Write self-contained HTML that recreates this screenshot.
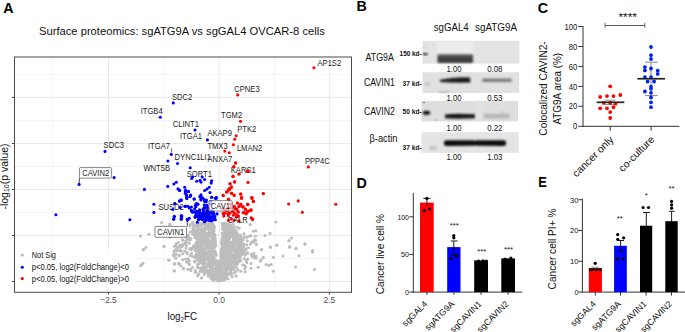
<!DOCTYPE html>
<html><head><meta charset="utf-8"><style>
html,body{margin:0;padding:0;background:#fff;}
svg{display:block;font-family:"Liberation Sans", sans-serif;}
</style></head><body>
<svg width="685" height="332" viewBox="0 0 685 332">
<text x="3.3" y="13.3" font-size="14.3" font-weight="bold">A</text>
<text x="39" y="35.2" font-size="11.2" fill="#111">Surface proteomics: sgATG9A vs sgGAL4 OVCAR-8 cells</text>
<line x1="52.6" y1="57" x2="52.6" y2="292" stroke="#f1f1f1" stroke-width="0.8"/>
<line x1="163.8" y1="57" x2="163.8" y2="292" stroke="#f1f1f1" stroke-width="0.8"/>
<line x1="274.5" y1="57" x2="274.5" y2="292" stroke="#f1f1f1" stroke-width="0.8"/>
<line x1="14.5" y1="74.3" x2="351.5" y2="74.3" stroke="#f1f1f1" stroke-width="0.8"/>
<line x1="14.5" y1="120.6" x2="351.5" y2="120.6" stroke="#f1f1f1" stroke-width="0.8"/>
<line x1="14.5" y1="166.5" x2="351.5" y2="166.5" stroke="#f1f1f1" stroke-width="0.8"/>
<line x1="14.5" y1="212.4" x2="351.5" y2="212.4" stroke="#f1f1f1" stroke-width="0.8"/>
<line x1="14.5" y1="258.5" x2="351.5" y2="258.5" stroke="#f1f1f1" stroke-width="0.8"/>
<line x1="108.5" y1="57" x2="108.5" y2="292" stroke="#eaeaea" stroke-width="1"/>
<line x1="219.1" y1="57" x2="219.1" y2="292" stroke="#eaeaea" stroke-width="1"/>
<line x1="329.4" y1="57" x2="329.4" y2="292" stroke="#eaeaea" stroke-width="1"/>
<line x1="14.5" y1="97.4" x2="351.5" y2="97.4" stroke="#eaeaea" stroke-width="1"/>
<line x1="14.5" y1="143.5" x2="351.5" y2="143.5" stroke="#eaeaea" stroke-width="1"/>
<line x1="14.5" y1="189.5" x2="351.5" y2="189.5" stroke="#eaeaea" stroke-width="1"/>
<line x1="14.5" y1="235.5" x2="351.5" y2="235.5" stroke="#eaeaea" stroke-width="1"/>
<line x1="14.5" y1="281.5" x2="351.5" y2="281.5" stroke="#eaeaea" stroke-width="1"/>
<text x="317.5" y="66.2" font-size="8.2" fill="#1a1a1a" textLength="23.66" lengthAdjust="spacingAndGlyphs">AP1S2</text>
<text x="234.3" y="91.6" font-size="8.2" fill="#1a1a1a" textLength="25.34" lengthAdjust="spacingAndGlyphs">CPNE3</text>
<text x="172" y="99.8" font-size="8.2" fill="#1a1a1a" textLength="20.27" lengthAdjust="spacingAndGlyphs">SDC2</text>
<text x="140.7" y="113.9" font-size="8.2" fill="#1a1a1a" textLength="21.96" lengthAdjust="spacingAndGlyphs">ITGB4</text>
<text x="221" y="118.1" font-size="8.2" fill="#1a1a1a" textLength="21.11" lengthAdjust="spacingAndGlyphs">TGM2</text>
<text x="172.7" y="127.1" font-size="8.2" fill="#1a1a1a" textLength="26.18" lengthAdjust="spacingAndGlyphs">CLINT1</text>
<text x="237.2" y="132.4" font-size="8.2" fill="#1a1a1a" textLength="19.01" lengthAdjust="spacingAndGlyphs">PTK2</text>
<text x="207.4" y="135.5" font-size="8.2" fill="#1a1a1a" textLength="24.50" lengthAdjust="spacingAndGlyphs">AKAP9</text>
<text x="180" y="139.2" font-size="8.2" fill="#1a1a1a" textLength="21.96" lengthAdjust="spacingAndGlyphs">ITGA1</text>
<text x="103.6" y="148.1" font-size="8.2" fill="#1a1a1a" textLength="20.27" lengthAdjust="spacingAndGlyphs">SDC3</text>
<text x="148" y="149.1" font-size="8.2" fill="#1a1a1a" textLength="21.96" lengthAdjust="spacingAndGlyphs">ITGA7</text>
<text x="207.4" y="148.9" font-size="8.2" fill="#1a1a1a" textLength="20.27" lengthAdjust="spacingAndGlyphs">TMX3</text>
<text x="236.9" y="150.9" font-size="8.2" fill="#1a1a1a" textLength="25.34" lengthAdjust="spacingAndGlyphs">LMAN2</text>
<text x="174.6" y="159.7" font-size="8.2" fill="#1a1a1a" textLength="36.33" lengthAdjust="spacingAndGlyphs">DYNC1LI1</text>
<text x="207.4" y="161.7" font-size="8.2" fill="#1a1a1a" textLength="24.92" lengthAdjust="spacingAndGlyphs">ANXA7</text>
<text x="304.9" y="163.8" font-size="8.2" fill="#1a1a1a" textLength="24.92" lengthAdjust="spacingAndGlyphs">PPP4C</text>
<text x="143.4" y="171.3" font-size="8.2" fill="#1a1a1a" textLength="26.60" lengthAdjust="spacingAndGlyphs">WNT5B</text>
<text x="230.8" y="173.2" font-size="8.2" fill="#1a1a1a" textLength="24.92" lengthAdjust="spacingAndGlyphs">KARS1</text>
<text x="186.7" y="177.0" font-size="8.2" fill="#1a1a1a" textLength="25.20" lengthAdjust="spacingAndGlyphs">SORT1</text>
<text x="158.5" y="210.0" font-size="8.2" fill="#1a1a1a" textLength="25.34" lengthAdjust="spacingAndGlyphs">SUSD2</text>
<circle cx="161.6" cy="222.5" r="1.55" fill="#bdbdbd"/>
<circle cx="169.6" cy="224.6" r="1.55" fill="#bdbdbd"/>
<circle cx="170.1" cy="224.0" r="1.55" fill="#bdbdbd"/>
<circle cx="140.5" cy="236.1" r="1.55" fill="#bdbdbd"/>
<circle cx="148.9" cy="234.3" r="1.55" fill="#bdbdbd"/>
<circle cx="164.0" cy="246.6" r="1.55" fill="#bdbdbd"/>
<circle cx="143.5" cy="249.3" r="1.55" fill="#bdbdbd"/>
<circle cx="145.9" cy="247.5" r="1.55" fill="#bdbdbd"/>
<circle cx="182.7" cy="240.3" r="1.55" fill="#bdbdbd"/>
<circle cx="176.0" cy="243.9" r="1.55" fill="#bdbdbd"/>
<circle cx="140.5" cy="265.8" r="1.55" fill="#bdbdbd"/>
<circle cx="143.0" cy="263.3" r="1.55" fill="#bdbdbd"/>
<circle cx="141.8" cy="264.6" r="1.55" fill="#bdbdbd"/>
<circle cx="168.7" cy="260.1" r="1.55" fill="#bdbdbd"/>
<circle cx="173.8" cy="255.7" r="1.55" fill="#bdbdbd"/>
<circle cx="175.7" cy="258.2" r="1.55" fill="#bdbdbd"/>
<circle cx="179.2" cy="255.7" r="1.55" fill="#bdbdbd"/>
<circle cx="174.7" cy="263.9" r="1.55" fill="#bdbdbd"/>
<circle cx="178.9" cy="263.7" r="1.55" fill="#bdbdbd"/>
<circle cx="183.3" cy="268.7" r="1.55" fill="#bdbdbd"/>
<circle cx="174.2" cy="270.9" r="1.55" fill="#bdbdbd"/>
<circle cx="190.3" cy="269.6" r="1.55" fill="#bdbdbd"/>
<circle cx="195.3" cy="270.9" r="1.55" fill="#bdbdbd"/>
<circle cx="143.4" cy="250.0" r="1.55" fill="#bdbdbd"/>
<circle cx="163.8" cy="246.3" r="1.55" fill="#bdbdbd"/>
<circle cx="169.0" cy="260.3" r="1.55" fill="#bdbdbd"/>
<circle cx="173.6" cy="255.3" r="1.55" fill="#bdbdbd"/>
<circle cx="175.8" cy="257.9" r="1.55" fill="#bdbdbd"/>
<circle cx="174.3" cy="263.9" r="1.55" fill="#bdbdbd"/>
<circle cx="178.8" cy="263.6" r="1.55" fill="#bdbdbd"/>
<circle cx="179.3" cy="255.3" r="1.55" fill="#bdbdbd"/>
<circle cx="174.3" cy="270.8" r="1.55" fill="#bdbdbd"/>
<circle cx="183.3" cy="268.1" r="1.55" fill="#bdbdbd"/>
<circle cx="174.3" cy="246.3" r="1.55" fill="#bdbdbd"/>
<circle cx="175.8" cy="249.3" r="1.55" fill="#bdbdbd"/>
<circle cx="178.1" cy="242.5" r="1.55" fill="#bdbdbd"/>
<circle cx="179.6" cy="245.5" r="1.55" fill="#bdbdbd"/>
<circle cx="182.3" cy="239.8" r="1.55" fill="#bdbdbd"/>
<circle cx="182.3" cy="246.3" r="1.55" fill="#bdbdbd"/>
<circle cx="180.3" cy="250.0" r="1.55" fill="#bdbdbd"/>
<circle cx="184.8" cy="251.3" r="1.55" fill="#bdbdbd"/>
<circle cx="185.6" cy="259.1" r="1.55" fill="#bdbdbd"/>
<circle cx="186.4" cy="245.5" r="1.55" fill="#bdbdbd"/>
<circle cx="190.9" cy="270.4" r="1.55" fill="#bdbdbd"/>
<circle cx="195.4" cy="270.8" r="1.55" fill="#bdbdbd"/>
<circle cx="189.4" cy="264.4" r="1.55" fill="#bdbdbd"/>
<circle cx="187.9" cy="262.1" r="1.55" fill="#bdbdbd"/>
<circle cx="192.4" cy="267.4" r="1.55" fill="#bdbdbd"/>
<circle cx="189.4" cy="243.3" r="1.55" fill="#bdbdbd"/>
<circle cx="190.9" cy="238.8" r="1.55" fill="#bdbdbd"/>
<circle cx="192.4" cy="247.8" r="1.55" fill="#bdbdbd"/>
<circle cx="170.2" cy="237.3" r="1.55" fill="#bdbdbd"/>
<circle cx="192.7" cy="222.2" r="1.55" fill="#bdbdbd"/>
<circle cx="275.8" cy="222.0" r="1.55" fill="#bdbdbd"/>
<circle cx="250.1" cy="224.5" r="1.55" fill="#bdbdbd"/>
<circle cx="253.5" cy="231.3" r="1.55" fill="#bdbdbd"/>
<circle cx="256.0" cy="230.8" r="1.55" fill="#bdbdbd"/>
<circle cx="270.0" cy="233.4" r="1.55" fill="#bdbdbd"/>
<circle cx="265.0" cy="235.5" r="1.55" fill="#bdbdbd"/>
<circle cx="255.5" cy="236.3" r="1.55" fill="#bdbdbd"/>
<circle cx="249.3" cy="236.3" r="1.55" fill="#bdbdbd"/>
<circle cx="246.7" cy="237.2" r="1.55" fill="#bdbdbd"/>
<circle cx="255.5" cy="240.5" r="1.55" fill="#bdbdbd"/>
<circle cx="256.4" cy="244.2" r="1.55" fill="#bdbdbd"/>
<circle cx="251.5" cy="242.2" r="1.55" fill="#bdbdbd"/>
<circle cx="246.7" cy="244.7" r="1.55" fill="#bdbdbd"/>
<circle cx="291.4" cy="238.0" r="1.55" fill="#bdbdbd"/>
<circle cx="288.9" cy="240.5" r="1.55" fill="#bdbdbd"/>
<circle cx="304.9" cy="244.2" r="1.55" fill="#bdbdbd"/>
<circle cx="276.8" cy="245.3" r="1.55" fill="#bdbdbd"/>
<circle cx="289.7" cy="246.9" r="1.55" fill="#bdbdbd"/>
<circle cx="270.4" cy="247.3" r="1.55" fill="#bdbdbd"/>
<circle cx="261.6" cy="249.8" r="1.55" fill="#bdbdbd"/>
<circle cx="296.0" cy="248.6" r="1.55" fill="#bdbdbd"/>
<circle cx="312.5" cy="250.6" r="1.55" fill="#bdbdbd"/>
<circle cx="255.2" cy="240.8" r="1.55" fill="#bdbdbd"/>
<circle cx="251.5" cy="242.0" r="1.55" fill="#bdbdbd"/>
<circle cx="256.4" cy="244.2" r="1.55" fill="#bdbdbd"/>
<circle cx="261.6" cy="249.6" r="1.55" fill="#bdbdbd"/>
<circle cx="270.4" cy="247.1" r="1.55" fill="#bdbdbd"/>
<circle cx="276.8" cy="245.0" r="1.55" fill="#bdbdbd"/>
<circle cx="289.7" cy="247.1" r="1.55" fill="#bdbdbd"/>
<circle cx="288.9" cy="240.8" r="1.55" fill="#bdbdbd"/>
<circle cx="296.0" cy="248.4" r="1.55" fill="#bdbdbd"/>
<circle cx="304.9" cy="243.9" r="1.55" fill="#bdbdbd"/>
<circle cx="312.5" cy="252.1" r="1.55" fill="#bdbdbd"/>
<circle cx="253.8" cy="253.2" r="1.55" fill="#bdbdbd"/>
<circle cx="246.7" cy="253.5" r="1.55" fill="#bdbdbd"/>
<circle cx="245.1" cy="255.2" r="1.55" fill="#bdbdbd"/>
<circle cx="256.0" cy="256.4" r="1.55" fill="#bdbdbd"/>
<circle cx="256.0" cy="258.2" r="1.55" fill="#bdbdbd"/>
<circle cx="263.3" cy="257.4" r="1.55" fill="#bdbdbd"/>
<circle cx="261.1" cy="259.9" r="1.55" fill="#bdbdbd"/>
<circle cx="260.2" cy="261.1" r="1.55" fill="#bdbdbd"/>
<circle cx="273.4" cy="257.4" r="1.55" fill="#bdbdbd"/>
<circle cx="283.0" cy="256.0" r="1.55" fill="#bdbdbd"/>
<circle cx="299.0" cy="255.7" r="1.55" fill="#bdbdbd"/>
<circle cx="266.1" cy="264.5" r="1.55" fill="#bdbdbd"/>
<circle cx="268.7" cy="265.3" r="1.55" fill="#bdbdbd"/>
<circle cx="271.2" cy="264.5" r="1.55" fill="#bdbdbd"/>
<circle cx="258.2" cy="267.3" r="1.55" fill="#bdbdbd"/>
<circle cx="251.0" cy="268.3" r="1.55" fill="#bdbdbd"/>
<circle cx="273.4" cy="271.2" r="1.55" fill="#bdbdbd"/>
<circle cx="295.6" cy="267.0" r="1.55" fill="#bdbdbd"/>
<circle cx="314.5" cy="269.5" r="1.55" fill="#bdbdbd"/>
<circle cx="245.1" cy="271.7" r="1.55" fill="#bdbdbd"/>
<circle cx="240.8" cy="271.2" r="1.55" fill="#bdbdbd"/>
<circle cx="204.0" cy="223.9" r="1.55" fill="#bdbdbd"/>
<circle cx="202.1" cy="223.5" r="1.55" fill="#bdbdbd"/>
<circle cx="204.6" cy="223.2" r="1.55" fill="#bdbdbd"/>
<circle cx="203.0" cy="223.6" r="1.55" fill="#bdbdbd"/>
<circle cx="209.0" cy="223.1" r="1.55" fill="#bdbdbd"/>
<circle cx="198.6" cy="223.1" r="1.55" fill="#bdbdbd"/>
<circle cx="209.3" cy="223.7" r="1.55" fill="#bdbdbd"/>
<circle cx="193.1" cy="224.0" r="1.55" fill="#bdbdbd"/>
<circle cx="212.6" cy="223.7" r="1.55" fill="#bdbdbd"/>
<circle cx="205.2" cy="223.2" r="1.55" fill="#bdbdbd"/>
<circle cx="192.5" cy="223.5" r="1.55" fill="#bdbdbd"/>
<circle cx="223.7" cy="223.2" r="1.55" fill="#bdbdbd"/>
<circle cx="222.6" cy="223.5" r="1.55" fill="#bdbdbd"/>
<circle cx="225.3" cy="223.8" r="1.55" fill="#bdbdbd"/>
<circle cx="225.8" cy="223.6" r="1.55" fill="#bdbdbd"/>
<circle cx="198.2" cy="225.0" r="1.55" fill="#bdbdbd"/>
<circle cx="213.5" cy="224.8" r="1.55" fill="#bdbdbd"/>
<circle cx="207.4" cy="224.3" r="1.55" fill="#bdbdbd"/>
<circle cx="197.2" cy="224.3" r="1.55" fill="#bdbdbd"/>
<circle cx="193.8" cy="224.8" r="1.55" fill="#bdbdbd"/>
<circle cx="200.8" cy="224.8" r="1.55" fill="#bdbdbd"/>
<circle cx="200.6" cy="225.0" r="1.55" fill="#bdbdbd"/>
<circle cx="210.4" cy="224.0" r="1.55" fill="#bdbdbd"/>
<circle cx="196.8" cy="224.9" r="1.55" fill="#bdbdbd"/>
<circle cx="202.3" cy="225.0" r="1.55" fill="#bdbdbd"/>
<circle cx="200.8" cy="224.1" r="1.55" fill="#bdbdbd"/>
<circle cx="228.3" cy="224.3" r="1.55" fill="#bdbdbd"/>
<circle cx="223.0" cy="224.3" r="1.55" fill="#bdbdbd"/>
<circle cx="229.7" cy="224.8" r="1.55" fill="#bdbdbd"/>
<circle cx="223.3" cy="224.2" r="1.55" fill="#bdbdbd"/>
<circle cx="190.0" cy="224.8" r="1.55" fill="#bdbdbd"/>
<circle cx="232.9" cy="224.4" r="1.55" fill="#bdbdbd"/>
<circle cx="208.1" cy="225.1" r="1.55" fill="#bdbdbd"/>
<circle cx="206.2" cy="225.1" r="1.55" fill="#bdbdbd"/>
<circle cx="201.5" cy="225.2" r="1.55" fill="#bdbdbd"/>
<circle cx="198.2" cy="226.0" r="1.55" fill="#bdbdbd"/>
<circle cx="209.7" cy="225.3" r="1.55" fill="#bdbdbd"/>
<circle cx="211.4" cy="225.2" r="1.55" fill="#bdbdbd"/>
<circle cx="200.9" cy="225.9" r="1.55" fill="#bdbdbd"/>
<circle cx="206.2" cy="225.1" r="1.55" fill="#bdbdbd"/>
<circle cx="213.6" cy="225.2" r="1.55" fill="#bdbdbd"/>
<circle cx="198.0" cy="225.8" r="1.55" fill="#bdbdbd"/>
<circle cx="199.5" cy="225.3" r="1.55" fill="#bdbdbd"/>
<circle cx="223.1" cy="225.6" r="1.55" fill="#bdbdbd"/>
<circle cx="224.4" cy="225.6" r="1.55" fill="#bdbdbd"/>
<circle cx="225.5" cy="225.5" r="1.55" fill="#bdbdbd"/>
<circle cx="230.6" cy="225.5" r="1.55" fill="#bdbdbd"/>
<circle cx="227.3" cy="225.9" r="1.55" fill="#bdbdbd"/>
<circle cx="190.1" cy="225.9" r="1.55" fill="#bdbdbd"/>
<circle cx="196.7" cy="226.7" r="1.55" fill="#bdbdbd"/>
<circle cx="212.8" cy="226.2" r="1.55" fill="#bdbdbd"/>
<circle cx="213.1" cy="226.9" r="1.55" fill="#bdbdbd"/>
<circle cx="205.6" cy="226.4" r="1.55" fill="#bdbdbd"/>
<circle cx="194.8" cy="226.0" r="1.55" fill="#bdbdbd"/>
<circle cx="213.3" cy="226.2" r="1.55" fill="#bdbdbd"/>
<circle cx="207.8" cy="226.3" r="1.55" fill="#bdbdbd"/>
<circle cx="210.3" cy="226.6" r="1.55" fill="#bdbdbd"/>
<circle cx="198.9" cy="226.2" r="1.55" fill="#bdbdbd"/>
<circle cx="208.1" cy="226.1" r="1.55" fill="#bdbdbd"/>
<circle cx="197.5" cy="226.6" r="1.55" fill="#bdbdbd"/>
<circle cx="228.2" cy="226.3" r="1.55" fill="#bdbdbd"/>
<circle cx="231.2" cy="226.2" r="1.55" fill="#bdbdbd"/>
<circle cx="222.4" cy="226.3" r="1.55" fill="#bdbdbd"/>
<circle cx="226.6" cy="226.1" r="1.55" fill="#bdbdbd"/>
<circle cx="224.0" cy="226.4" r="1.55" fill="#bdbdbd"/>
<circle cx="234.7" cy="226.9" r="1.55" fill="#bdbdbd"/>
<circle cx="206.9" cy="227.7" r="1.55" fill="#bdbdbd"/>
<circle cx="205.4" cy="227.1" r="1.55" fill="#bdbdbd"/>
<circle cx="193.5" cy="227.0" r="1.55" fill="#bdbdbd"/>
<circle cx="212.4" cy="227.7" r="1.55" fill="#bdbdbd"/>
<circle cx="213.6" cy="227.0" r="1.55" fill="#bdbdbd"/>
<circle cx="206.5" cy="227.5" r="1.55" fill="#bdbdbd"/>
<circle cx="208.5" cy="227.3" r="1.55" fill="#bdbdbd"/>
<circle cx="214.4" cy="227.1" r="1.55" fill="#bdbdbd"/>
<circle cx="204.5" cy="227.7" r="1.55" fill="#bdbdbd"/>
<circle cx="212.2" cy="227.7" r="1.55" fill="#bdbdbd"/>
<circle cx="230.8" cy="227.9" r="1.55" fill="#bdbdbd"/>
<circle cx="226.0" cy="227.7" r="1.55" fill="#bdbdbd"/>
<circle cx="231.9" cy="227.9" r="1.55" fill="#bdbdbd"/>
<circle cx="226.7" cy="227.8" r="1.55" fill="#bdbdbd"/>
<circle cx="231.5" cy="227.6" r="1.55" fill="#bdbdbd"/>
<circle cx="237.7" cy="227.6" r="1.55" fill="#bdbdbd"/>
<circle cx="206.8" cy="229.0" r="1.55" fill="#bdbdbd"/>
<circle cx="212.0" cy="228.7" r="1.55" fill="#bdbdbd"/>
<circle cx="201.3" cy="228.7" r="1.55" fill="#bdbdbd"/>
<circle cx="205.5" cy="228.4" r="1.55" fill="#bdbdbd"/>
<circle cx="211.1" cy="228.1" r="1.55" fill="#bdbdbd"/>
<circle cx="209.2" cy="228.0" r="1.55" fill="#bdbdbd"/>
<circle cx="206.0" cy="228.5" r="1.55" fill="#bdbdbd"/>
<circle cx="197.9" cy="228.7" r="1.55" fill="#bdbdbd"/>
<circle cx="203.7" cy="228.6" r="1.55" fill="#bdbdbd"/>
<circle cx="212.9" cy="228.3" r="1.55" fill="#bdbdbd"/>
<circle cx="193.1" cy="228.3" r="1.55" fill="#bdbdbd"/>
<circle cx="224.6" cy="228.2" r="1.55" fill="#bdbdbd"/>
<circle cx="232.9" cy="228.7" r="1.55" fill="#bdbdbd"/>
<circle cx="227.4" cy="228.9" r="1.55" fill="#bdbdbd"/>
<circle cx="226.0" cy="228.7" r="1.55" fill="#bdbdbd"/>
<circle cx="224.5" cy="228.4" r="1.55" fill="#bdbdbd"/>
<circle cx="231.7" cy="228.9" r="1.55" fill="#bdbdbd"/>
<circle cx="239.2" cy="228.3" r="1.55" fill="#bdbdbd"/>
<circle cx="203.9" cy="229.8" r="1.55" fill="#bdbdbd"/>
<circle cx="211.6" cy="229.7" r="1.55" fill="#bdbdbd"/>
<circle cx="213.8" cy="229.3" r="1.55" fill="#bdbdbd"/>
<circle cx="196.7" cy="229.5" r="1.55" fill="#bdbdbd"/>
<circle cx="199.0" cy="229.2" r="1.55" fill="#bdbdbd"/>
<circle cx="202.1" cy="229.6" r="1.55" fill="#bdbdbd"/>
<circle cx="203.8" cy="229.3" r="1.55" fill="#bdbdbd"/>
<circle cx="211.4" cy="230.0" r="1.55" fill="#bdbdbd"/>
<circle cx="202.9" cy="229.1" r="1.55" fill="#bdbdbd"/>
<circle cx="193.7" cy="229.9" r="1.55" fill="#bdbdbd"/>
<circle cx="193.9" cy="229.7" r="1.55" fill="#bdbdbd"/>
<circle cx="226.1" cy="229.8" r="1.55" fill="#bdbdbd"/>
<circle cx="222.4" cy="229.1" r="1.55" fill="#bdbdbd"/>
<circle cx="228.0" cy="229.0" r="1.55" fill="#bdbdbd"/>
<circle cx="232.8" cy="229.2" r="1.55" fill="#bdbdbd"/>
<circle cx="223.9" cy="229.0" r="1.55" fill="#bdbdbd"/>
<circle cx="230.2" cy="229.4" r="1.55" fill="#bdbdbd"/>
<circle cx="214.1" cy="230.7" r="1.55" fill="#bdbdbd"/>
<circle cx="197.5" cy="230.5" r="1.55" fill="#bdbdbd"/>
<circle cx="197.1" cy="230.0" r="1.55" fill="#bdbdbd"/>
<circle cx="203.5" cy="230.7" r="1.55" fill="#bdbdbd"/>
<circle cx="197.1" cy="230.3" r="1.55" fill="#bdbdbd"/>
<circle cx="200.7" cy="230.7" r="1.55" fill="#bdbdbd"/>
<circle cx="204.5" cy="230.6" r="1.55" fill="#bdbdbd"/>
<circle cx="209.7" cy="230.4" r="1.55" fill="#bdbdbd"/>
<circle cx="210.5" cy="230.9" r="1.55" fill="#bdbdbd"/>
<circle cx="195.1" cy="230.9" r="1.55" fill="#bdbdbd"/>
<circle cx="209.0" cy="230.1" r="1.55" fill="#bdbdbd"/>
<circle cx="230.8" cy="230.9" r="1.55" fill="#bdbdbd"/>
<circle cx="227.3" cy="230.6" r="1.55" fill="#bdbdbd"/>
<circle cx="234.3" cy="230.8" r="1.55" fill="#bdbdbd"/>
<circle cx="235.2" cy="230.5" r="1.55" fill="#bdbdbd"/>
<circle cx="231.1" cy="230.2" r="1.55" fill="#bdbdbd"/>
<circle cx="232.1" cy="230.8" r="1.55" fill="#bdbdbd"/>
<circle cx="231.0" cy="230.7" r="1.55" fill="#bdbdbd"/>
<circle cx="192.6" cy="231.0" r="1.55" fill="#bdbdbd"/>
<circle cx="210.5" cy="231.3" r="1.55" fill="#bdbdbd"/>
<circle cx="213.1" cy="231.9" r="1.55" fill="#bdbdbd"/>
<circle cx="200.9" cy="231.1" r="1.55" fill="#bdbdbd"/>
<circle cx="202.9" cy="231.6" r="1.55" fill="#bdbdbd"/>
<circle cx="210.0" cy="231.5" r="1.55" fill="#bdbdbd"/>
<circle cx="193.9" cy="231.8" r="1.55" fill="#bdbdbd"/>
<circle cx="194.7" cy="231.8" r="1.55" fill="#bdbdbd"/>
<circle cx="197.0" cy="231.3" r="1.55" fill="#bdbdbd"/>
<circle cx="210.5" cy="231.1" r="1.55" fill="#bdbdbd"/>
<circle cx="196.5" cy="231.5" r="1.55" fill="#bdbdbd"/>
<circle cx="209.1" cy="231.8" r="1.55" fill="#bdbdbd"/>
<circle cx="236.0" cy="231.5" r="1.55" fill="#bdbdbd"/>
<circle cx="236.1" cy="231.1" r="1.55" fill="#bdbdbd"/>
<circle cx="225.3" cy="231.5" r="1.55" fill="#bdbdbd"/>
<circle cx="226.3" cy="231.7" r="1.55" fill="#bdbdbd"/>
<circle cx="231.5" cy="231.5" r="1.55" fill="#bdbdbd"/>
<circle cx="234.5" cy="231.6" r="1.55" fill="#bdbdbd"/>
<circle cx="226.6" cy="231.4" r="1.55" fill="#bdbdbd"/>
<circle cx="211.9" cy="233.0" r="1.55" fill="#bdbdbd"/>
<circle cx="204.8" cy="232.6" r="1.55" fill="#bdbdbd"/>
<circle cx="197.8" cy="232.5" r="1.55" fill="#bdbdbd"/>
<circle cx="204.3" cy="232.6" r="1.55" fill="#bdbdbd"/>
<circle cx="194.0" cy="233.0" r="1.55" fill="#bdbdbd"/>
<circle cx="204.6" cy="232.4" r="1.55" fill="#bdbdbd"/>
<circle cx="210.8" cy="232.6" r="1.55" fill="#bdbdbd"/>
<circle cx="204.1" cy="232.7" r="1.55" fill="#bdbdbd"/>
<circle cx="194.8" cy="232.5" r="1.55" fill="#bdbdbd"/>
<circle cx="202.4" cy="233.0" r="1.55" fill="#bdbdbd"/>
<circle cx="213.5" cy="232.3" r="1.55" fill="#bdbdbd"/>
<circle cx="224.0" cy="232.4" r="1.55" fill="#bdbdbd"/>
<circle cx="234.8" cy="232.9" r="1.55" fill="#bdbdbd"/>
<circle cx="229.5" cy="232.3" r="1.55" fill="#bdbdbd"/>
<circle cx="225.0" cy="232.6" r="1.55" fill="#bdbdbd"/>
<circle cx="236.6" cy="232.1" r="1.55" fill="#bdbdbd"/>
<circle cx="234.3" cy="232.0" r="1.55" fill="#bdbdbd"/>
<circle cx="225.0" cy="232.2" r="1.55" fill="#bdbdbd"/>
<circle cx="232.8" cy="232.3" r="1.55" fill="#bdbdbd"/>
<circle cx="190.3" cy="232.1" r="1.55" fill="#bdbdbd"/>
<circle cx="204.6" cy="233.3" r="1.55" fill="#bdbdbd"/>
<circle cx="197.8" cy="233.5" r="1.55" fill="#bdbdbd"/>
<circle cx="203.0" cy="233.4" r="1.55" fill="#bdbdbd"/>
<circle cx="202.5" cy="233.5" r="1.55" fill="#bdbdbd"/>
<circle cx="197.0" cy="233.2" r="1.55" fill="#bdbdbd"/>
<circle cx="207.2" cy="233.6" r="1.55" fill="#bdbdbd"/>
<circle cx="205.0" cy="233.9" r="1.55" fill="#bdbdbd"/>
<circle cx="206.8" cy="233.9" r="1.55" fill="#bdbdbd"/>
<circle cx="198.6" cy="233.7" r="1.55" fill="#bdbdbd"/>
<circle cx="211.1" cy="233.9" r="1.55" fill="#bdbdbd"/>
<circle cx="200.4" cy="233.3" r="1.55" fill="#bdbdbd"/>
<circle cx="225.5" cy="234.0" r="1.55" fill="#bdbdbd"/>
<circle cx="236.8" cy="233.1" r="1.55" fill="#bdbdbd"/>
<circle cx="225.9" cy="233.7" r="1.55" fill="#bdbdbd"/>
<circle cx="226.2" cy="233.1" r="1.55" fill="#bdbdbd"/>
<circle cx="235.8" cy="233.4" r="1.55" fill="#bdbdbd"/>
<circle cx="235.1" cy="233.1" r="1.55" fill="#bdbdbd"/>
<circle cx="228.6" cy="233.7" r="1.55" fill="#bdbdbd"/>
<circle cx="222.2" cy="233.2" r="1.55" fill="#bdbdbd"/>
<circle cx="192.7" cy="234.0" r="1.55" fill="#bdbdbd"/>
<circle cx="243.9" cy="233.8" r="1.55" fill="#bdbdbd"/>
<circle cx="208.4" cy="234.2" r="1.55" fill="#bdbdbd"/>
<circle cx="195.2" cy="234.1" r="1.55" fill="#bdbdbd"/>
<circle cx="194.4" cy="234.6" r="1.55" fill="#bdbdbd"/>
<circle cx="204.8" cy="234.6" r="1.55" fill="#bdbdbd"/>
<circle cx="196.8" cy="234.2" r="1.55" fill="#bdbdbd"/>
<circle cx="198.0" cy="234.8" r="1.55" fill="#bdbdbd"/>
<circle cx="215.0" cy="234.9" r="1.55" fill="#bdbdbd"/>
<circle cx="195.7" cy="234.1" r="1.55" fill="#bdbdbd"/>
<circle cx="214.2" cy="234.5" r="1.55" fill="#bdbdbd"/>
<circle cx="210.1" cy="234.3" r="1.55" fill="#bdbdbd"/>
<circle cx="203.7" cy="234.5" r="1.55" fill="#bdbdbd"/>
<circle cx="232.5" cy="234.0" r="1.55" fill="#bdbdbd"/>
<circle cx="234.3" cy="234.8" r="1.55" fill="#bdbdbd"/>
<circle cx="225.0" cy="234.5" r="1.55" fill="#bdbdbd"/>
<circle cx="234.9" cy="234.4" r="1.55" fill="#bdbdbd"/>
<circle cx="225.3" cy="234.2" r="1.55" fill="#bdbdbd"/>
<circle cx="230.9" cy="234.0" r="1.55" fill="#bdbdbd"/>
<circle cx="237.7" cy="234.8" r="1.55" fill="#bdbdbd"/>
<circle cx="234.3" cy="234.9" r="1.55" fill="#bdbdbd"/>
<circle cx="233.0" cy="234.4" r="1.55" fill="#bdbdbd"/>
<circle cx="188.2" cy="235.0" r="1.55" fill="#bdbdbd"/>
<circle cx="213.4" cy="235.7" r="1.55" fill="#bdbdbd"/>
<circle cx="210.5" cy="235.8" r="1.55" fill="#bdbdbd"/>
<circle cx="202.5" cy="235.9" r="1.55" fill="#bdbdbd"/>
<circle cx="212.7" cy="235.7" r="1.55" fill="#bdbdbd"/>
<circle cx="210.3" cy="235.8" r="1.55" fill="#bdbdbd"/>
<circle cx="202.5" cy="235.7" r="1.55" fill="#bdbdbd"/>
<circle cx="195.3" cy="235.3" r="1.55" fill="#bdbdbd"/>
<circle cx="203.8" cy="235.0" r="1.55" fill="#bdbdbd"/>
<circle cx="201.4" cy="235.6" r="1.55" fill="#bdbdbd"/>
<circle cx="207.2" cy="235.2" r="1.55" fill="#bdbdbd"/>
<circle cx="214.1" cy="235.7" r="1.55" fill="#bdbdbd"/>
<circle cx="234.1" cy="235.6" r="1.55" fill="#bdbdbd"/>
<circle cx="231.7" cy="235.4" r="1.55" fill="#bdbdbd"/>
<circle cx="240.4" cy="235.6" r="1.55" fill="#bdbdbd"/>
<circle cx="234.9" cy="235.8" r="1.55" fill="#bdbdbd"/>
<circle cx="240.1" cy="235.0" r="1.55" fill="#bdbdbd"/>
<circle cx="233.3" cy="235.7" r="1.55" fill="#bdbdbd"/>
<circle cx="226.6" cy="235.4" r="1.55" fill="#bdbdbd"/>
<circle cx="222.7" cy="235.2" r="1.55" fill="#bdbdbd"/>
<circle cx="228.8" cy="235.1" r="1.55" fill="#bdbdbd"/>
<circle cx="226.5" cy="235.9" r="1.55" fill="#bdbdbd"/>
<circle cx="187.7" cy="236.0" r="1.55" fill="#bdbdbd"/>
<circle cx="250.9" cy="235.6" r="1.55" fill="#bdbdbd"/>
<circle cx="195.5" cy="236.6" r="1.55" fill="#bdbdbd"/>
<circle cx="210.2" cy="236.0" r="1.55" fill="#bdbdbd"/>
<circle cx="213.8" cy="236.2" r="1.55" fill="#bdbdbd"/>
<circle cx="204.0" cy="236.2" r="1.55" fill="#bdbdbd"/>
<circle cx="204.5" cy="236.6" r="1.55" fill="#bdbdbd"/>
<circle cx="195.1" cy="236.9" r="1.55" fill="#bdbdbd"/>
<circle cx="202.9" cy="236.5" r="1.55" fill="#bdbdbd"/>
<circle cx="206.7" cy="236.4" r="1.55" fill="#bdbdbd"/>
<circle cx="200.0" cy="236.7" r="1.55" fill="#bdbdbd"/>
<circle cx="205.9" cy="236.3" r="1.55" fill="#bdbdbd"/>
<circle cx="227.5" cy="236.0" r="1.55" fill="#bdbdbd"/>
<circle cx="226.5" cy="236.0" r="1.55" fill="#bdbdbd"/>
<circle cx="224.8" cy="236.8" r="1.55" fill="#bdbdbd"/>
<circle cx="229.4" cy="236.9" r="1.55" fill="#bdbdbd"/>
<circle cx="236.4" cy="236.1" r="1.55" fill="#bdbdbd"/>
<circle cx="241.1" cy="236.9" r="1.55" fill="#bdbdbd"/>
<circle cx="223.2" cy="236.9" r="1.55" fill="#bdbdbd"/>
<circle cx="230.1" cy="236.5" r="1.55" fill="#bdbdbd"/>
<circle cx="240.8" cy="236.2" r="1.55" fill="#bdbdbd"/>
<circle cx="232.0" cy="236.9" r="1.55" fill="#bdbdbd"/>
<circle cx="186.5" cy="237.0" r="1.55" fill="#bdbdbd"/>
<circle cx="196.5" cy="237.6" r="1.55" fill="#bdbdbd"/>
<circle cx="203.7" cy="237.2" r="1.55" fill="#bdbdbd"/>
<circle cx="195.1" cy="237.5" r="1.55" fill="#bdbdbd"/>
<circle cx="196.7" cy="237.4" r="1.55" fill="#bdbdbd"/>
<circle cx="208.3" cy="237.5" r="1.55" fill="#bdbdbd"/>
<circle cx="199.6" cy="237.6" r="1.55" fill="#bdbdbd"/>
<circle cx="203.0" cy="237.8" r="1.55" fill="#bdbdbd"/>
<circle cx="205.3" cy="238.0" r="1.55" fill="#bdbdbd"/>
<circle cx="214.4" cy="237.7" r="1.55" fill="#bdbdbd"/>
<circle cx="199.1" cy="237.1" r="1.55" fill="#bdbdbd"/>
<circle cx="213.1" cy="237.8" r="1.55" fill="#bdbdbd"/>
<circle cx="229.0" cy="237.3" r="1.55" fill="#bdbdbd"/>
<circle cx="235.8" cy="237.6" r="1.55" fill="#bdbdbd"/>
<circle cx="233.8" cy="237.6" r="1.55" fill="#bdbdbd"/>
<circle cx="237.2" cy="237.2" r="1.55" fill="#bdbdbd"/>
<circle cx="226.8" cy="238.0" r="1.55" fill="#bdbdbd"/>
<circle cx="240.5" cy="237.9" r="1.55" fill="#bdbdbd"/>
<circle cx="222.5" cy="237.1" r="1.55" fill="#bdbdbd"/>
<circle cx="227.2" cy="237.4" r="1.55" fill="#bdbdbd"/>
<circle cx="234.5" cy="237.1" r="1.55" fill="#bdbdbd"/>
<circle cx="232.8" cy="237.1" r="1.55" fill="#bdbdbd"/>
<circle cx="189.1" cy="237.6" r="1.55" fill="#bdbdbd"/>
<circle cx="188.4" cy="237.4" r="1.55" fill="#bdbdbd"/>
<circle cx="244.5" cy="237.3" r="1.55" fill="#bdbdbd"/>
<circle cx="212.0" cy="238.1" r="1.55" fill="#bdbdbd"/>
<circle cx="196.7" cy="238.8" r="1.55" fill="#bdbdbd"/>
<circle cx="207.4" cy="238.8" r="1.55" fill="#bdbdbd"/>
<circle cx="198.7" cy="238.4" r="1.55" fill="#bdbdbd"/>
<circle cx="199.6" cy="238.8" r="1.55" fill="#bdbdbd"/>
<circle cx="202.0" cy="238.7" r="1.55" fill="#bdbdbd"/>
<circle cx="215.2" cy="238.3" r="1.55" fill="#bdbdbd"/>
<circle cx="205.8" cy="238.7" r="1.55" fill="#bdbdbd"/>
<circle cx="213.7" cy="238.4" r="1.55" fill="#bdbdbd"/>
<circle cx="202.0" cy="238.1" r="1.55" fill="#bdbdbd"/>
<circle cx="223.3" cy="238.1" r="1.55" fill="#bdbdbd"/>
<circle cx="233.8" cy="238.5" r="1.55" fill="#bdbdbd"/>
<circle cx="236.4" cy="238.3" r="1.55" fill="#bdbdbd"/>
<circle cx="238.3" cy="238.1" r="1.55" fill="#bdbdbd"/>
<circle cx="226.2" cy="238.7" r="1.55" fill="#bdbdbd"/>
<circle cx="223.4" cy="238.3" r="1.55" fill="#bdbdbd"/>
<circle cx="237.2" cy="238.7" r="1.55" fill="#bdbdbd"/>
<circle cx="227.7" cy="238.1" r="1.55" fill="#bdbdbd"/>
<circle cx="229.3" cy="238.7" r="1.55" fill="#bdbdbd"/>
<circle cx="229.5" cy="238.1" r="1.55" fill="#bdbdbd"/>
<circle cx="186.9" cy="238.9" r="1.55" fill="#bdbdbd"/>
<circle cx="203.5" cy="239.8" r="1.55" fill="#bdbdbd"/>
<circle cx="200.7" cy="239.3" r="1.55" fill="#bdbdbd"/>
<circle cx="202.7" cy="239.9" r="1.55" fill="#bdbdbd"/>
<circle cx="213.2" cy="239.2" r="1.55" fill="#bdbdbd"/>
<circle cx="201.9" cy="239.4" r="1.55" fill="#bdbdbd"/>
<circle cx="202.0" cy="239.4" r="1.55" fill="#bdbdbd"/>
<circle cx="202.5" cy="239.2" r="1.55" fill="#bdbdbd"/>
<circle cx="206.2" cy="239.8" r="1.55" fill="#bdbdbd"/>
<circle cx="205.7" cy="239.8" r="1.55" fill="#bdbdbd"/>
<circle cx="206.2" cy="239.2" r="1.55" fill="#bdbdbd"/>
<circle cx="241.4" cy="239.3" r="1.55" fill="#bdbdbd"/>
<circle cx="222.0" cy="239.5" r="1.55" fill="#bdbdbd"/>
<circle cx="233.8" cy="239.6" r="1.55" fill="#bdbdbd"/>
<circle cx="243.3" cy="239.7" r="1.55" fill="#bdbdbd"/>
<circle cx="239.6" cy="239.1" r="1.55" fill="#bdbdbd"/>
<circle cx="233.8" cy="239.8" r="1.55" fill="#bdbdbd"/>
<circle cx="223.4" cy="239.1" r="1.55" fill="#bdbdbd"/>
<circle cx="238.1" cy="239.9" r="1.55" fill="#bdbdbd"/>
<circle cx="223.4" cy="239.6" r="1.55" fill="#bdbdbd"/>
<circle cx="224.8" cy="239.7" r="1.55" fill="#bdbdbd"/>
<circle cx="236.1" cy="239.2" r="1.55" fill="#bdbdbd"/>
<circle cx="190.0" cy="239.5" r="1.55" fill="#bdbdbd"/>
<circle cx="190.0" cy="239.4" r="1.55" fill="#bdbdbd"/>
<circle cx="254.7" cy="239.7" r="1.55" fill="#bdbdbd"/>
<circle cx="205.7" cy="240.7" r="1.55" fill="#bdbdbd"/>
<circle cx="209.3" cy="240.9" r="1.55" fill="#bdbdbd"/>
<circle cx="203.0" cy="240.8" r="1.55" fill="#bdbdbd"/>
<circle cx="208.5" cy="240.9" r="1.55" fill="#bdbdbd"/>
<circle cx="211.4" cy="240.8" r="1.55" fill="#bdbdbd"/>
<circle cx="213.2" cy="241.0" r="1.55" fill="#bdbdbd"/>
<circle cx="207.9" cy="240.5" r="1.55" fill="#bdbdbd"/>
<circle cx="209.4" cy="240.8" r="1.55" fill="#bdbdbd"/>
<circle cx="203.3" cy="240.4" r="1.55" fill="#bdbdbd"/>
<circle cx="197.4" cy="240.7" r="1.55" fill="#bdbdbd"/>
<circle cx="215.3" cy="240.4" r="1.55" fill="#bdbdbd"/>
<circle cx="226.2" cy="240.4" r="1.55" fill="#bdbdbd"/>
<circle cx="228.2" cy="241.0" r="1.55" fill="#bdbdbd"/>
<circle cx="222.8" cy="240.3" r="1.55" fill="#bdbdbd"/>
<circle cx="224.1" cy="240.6" r="1.55" fill="#bdbdbd"/>
<circle cx="239.3" cy="240.2" r="1.55" fill="#bdbdbd"/>
<circle cx="222.9" cy="240.5" r="1.55" fill="#bdbdbd"/>
<circle cx="234.9" cy="240.9" r="1.55" fill="#bdbdbd"/>
<circle cx="222.3" cy="240.1" r="1.55" fill="#bdbdbd"/>
<circle cx="225.7" cy="240.2" r="1.55" fill="#bdbdbd"/>
<circle cx="226.9" cy="240.7" r="1.55" fill="#bdbdbd"/>
<circle cx="235.1" cy="240.2" r="1.55" fill="#bdbdbd"/>
<circle cx="225.7" cy="240.3" r="1.55" fill="#bdbdbd"/>
<circle cx="189.7" cy="240.3" r="1.55" fill="#bdbdbd"/>
<circle cx="185.8" cy="240.8" r="1.55" fill="#bdbdbd"/>
<circle cx="247.3" cy="240.9" r="1.55" fill="#bdbdbd"/>
<circle cx="201.6" cy="241.5" r="1.55" fill="#bdbdbd"/>
<circle cx="214.7" cy="241.5" r="1.55" fill="#bdbdbd"/>
<circle cx="199.0" cy="241.0" r="1.55" fill="#bdbdbd"/>
<circle cx="214.5" cy="241.8" r="1.55" fill="#bdbdbd"/>
<circle cx="202.5" cy="241.5" r="1.55" fill="#bdbdbd"/>
<circle cx="205.3" cy="241.3" r="1.55" fill="#bdbdbd"/>
<circle cx="215.4" cy="241.7" r="1.55" fill="#bdbdbd"/>
<circle cx="199.4" cy="241.0" r="1.55" fill="#bdbdbd"/>
<circle cx="204.4" cy="241.4" r="1.55" fill="#bdbdbd"/>
<circle cx="211.3" cy="241.7" r="1.55" fill="#bdbdbd"/>
<circle cx="225.0" cy="241.2" r="1.55" fill="#bdbdbd"/>
<circle cx="228.8" cy="241.3" r="1.55" fill="#bdbdbd"/>
<circle cx="241.3" cy="241.5" r="1.55" fill="#bdbdbd"/>
<circle cx="236.0" cy="242.0" r="1.55" fill="#bdbdbd"/>
<circle cx="227.5" cy="241.5" r="1.55" fill="#bdbdbd"/>
<circle cx="224.9" cy="241.8" r="1.55" fill="#bdbdbd"/>
<circle cx="221.5" cy="241.8" r="1.55" fill="#bdbdbd"/>
<circle cx="240.8" cy="241.8" r="1.55" fill="#bdbdbd"/>
<circle cx="223.3" cy="241.3" r="1.55" fill="#bdbdbd"/>
<circle cx="237.8" cy="241.1" r="1.55" fill="#bdbdbd"/>
<circle cx="232.4" cy="241.5" r="1.55" fill="#bdbdbd"/>
<circle cx="186.4" cy="241.9" r="1.55" fill="#bdbdbd"/>
<circle cx="253.4" cy="241.4" r="1.55" fill="#bdbdbd"/>
<circle cx="196.3" cy="242.8" r="1.55" fill="#bdbdbd"/>
<circle cx="198.8" cy="242.5" r="1.55" fill="#bdbdbd"/>
<circle cx="205.5" cy="242.2" r="1.55" fill="#bdbdbd"/>
<circle cx="212.1" cy="242.3" r="1.55" fill="#bdbdbd"/>
<circle cx="201.0" cy="242.1" r="1.55" fill="#bdbdbd"/>
<circle cx="200.9" cy="242.5" r="1.55" fill="#bdbdbd"/>
<circle cx="209.6" cy="242.4" r="1.55" fill="#bdbdbd"/>
<circle cx="209.0" cy="242.1" r="1.55" fill="#bdbdbd"/>
<circle cx="202.7" cy="242.5" r="1.55" fill="#bdbdbd"/>
<circle cx="214.9" cy="242.8" r="1.55" fill="#bdbdbd"/>
<circle cx="221.7" cy="242.4" r="1.55" fill="#bdbdbd"/>
<circle cx="237.6" cy="242.2" r="1.55" fill="#bdbdbd"/>
<circle cx="234.2" cy="242.5" r="1.55" fill="#bdbdbd"/>
<circle cx="221.6" cy="243.0" r="1.55" fill="#bdbdbd"/>
<circle cx="239.6" cy="242.2" r="1.55" fill="#bdbdbd"/>
<circle cx="235.4" cy="242.3" r="1.55" fill="#bdbdbd"/>
<circle cx="229.9" cy="242.5" r="1.55" fill="#bdbdbd"/>
<circle cx="228.2" cy="242.3" r="1.55" fill="#bdbdbd"/>
<circle cx="230.3" cy="242.7" r="1.55" fill="#bdbdbd"/>
<circle cx="227.2" cy="242.2" r="1.55" fill="#bdbdbd"/>
<circle cx="238.1" cy="242.3" r="1.55" fill="#bdbdbd"/>
<circle cx="185.9" cy="242.7" r="1.55" fill="#bdbdbd"/>
<circle cx="254.0" cy="242.1" r="1.55" fill="#bdbdbd"/>
<circle cx="196.4" cy="243.7" r="1.55" fill="#bdbdbd"/>
<circle cx="209.5" cy="243.2" r="1.55" fill="#bdbdbd"/>
<circle cx="203.0" cy="243.8" r="1.55" fill="#bdbdbd"/>
<circle cx="207.0" cy="243.1" r="1.55" fill="#bdbdbd"/>
<circle cx="199.2" cy="243.2" r="1.55" fill="#bdbdbd"/>
<circle cx="197.0" cy="243.4" r="1.55" fill="#bdbdbd"/>
<circle cx="195.9" cy="243.9" r="1.55" fill="#bdbdbd"/>
<circle cx="203.5" cy="243.5" r="1.55" fill="#bdbdbd"/>
<circle cx="208.2" cy="243.8" r="1.55" fill="#bdbdbd"/>
<circle cx="211.9" cy="243.4" r="1.55" fill="#bdbdbd"/>
<circle cx="201.4" cy="243.4" r="1.55" fill="#bdbdbd"/>
<circle cx="230.4" cy="243.7" r="1.55" fill="#bdbdbd"/>
<circle cx="243.6" cy="243.8" r="1.55" fill="#bdbdbd"/>
<circle cx="236.3" cy="243.6" r="1.55" fill="#bdbdbd"/>
<circle cx="221.7" cy="243.3" r="1.55" fill="#bdbdbd"/>
<circle cx="229.1" cy="243.7" r="1.55" fill="#bdbdbd"/>
<circle cx="223.7" cy="243.4" r="1.55" fill="#bdbdbd"/>
<circle cx="232.9" cy="243.8" r="1.55" fill="#bdbdbd"/>
<circle cx="240.1" cy="243.6" r="1.55" fill="#bdbdbd"/>
<circle cx="224.9" cy="243.8" r="1.55" fill="#bdbdbd"/>
<circle cx="241.8" cy="243.5" r="1.55" fill="#bdbdbd"/>
<circle cx="229.3" cy="243.5" r="1.55" fill="#bdbdbd"/>
<circle cx="224.5" cy="243.7" r="1.55" fill="#bdbdbd"/>
<circle cx="184.9" cy="243.7" r="1.55" fill="#bdbdbd"/>
<circle cx="214.6" cy="244.6" r="1.55" fill="#bdbdbd"/>
<circle cx="198.6" cy="244.1" r="1.55" fill="#bdbdbd"/>
<circle cx="199.6" cy="244.6" r="1.55" fill="#bdbdbd"/>
<circle cx="209.3" cy="244.3" r="1.55" fill="#bdbdbd"/>
<circle cx="214.3" cy="244.4" r="1.55" fill="#bdbdbd"/>
<circle cx="204.3" cy="244.1" r="1.55" fill="#bdbdbd"/>
<circle cx="215.2" cy="244.1" r="1.55" fill="#bdbdbd"/>
<circle cx="213.7" cy="244.5" r="1.55" fill="#bdbdbd"/>
<circle cx="206.4" cy="244.6" r="1.55" fill="#bdbdbd"/>
<circle cx="200.0" cy="244.9" r="1.55" fill="#bdbdbd"/>
<circle cx="215.6" cy="244.8" r="1.55" fill="#bdbdbd"/>
<circle cx="224.1" cy="244.8" r="1.55" fill="#bdbdbd"/>
<circle cx="227.8" cy="244.9" r="1.55" fill="#bdbdbd"/>
<circle cx="226.7" cy="244.6" r="1.55" fill="#bdbdbd"/>
<circle cx="240.1" cy="244.2" r="1.55" fill="#bdbdbd"/>
<circle cx="233.7" cy="244.1" r="1.55" fill="#bdbdbd"/>
<circle cx="222.0" cy="244.2" r="1.55" fill="#bdbdbd"/>
<circle cx="243.6" cy="244.9" r="1.55" fill="#bdbdbd"/>
<circle cx="236.2" cy="244.3" r="1.55" fill="#bdbdbd"/>
<circle cx="236.5" cy="244.7" r="1.55" fill="#bdbdbd"/>
<circle cx="229.9" cy="244.6" r="1.55" fill="#bdbdbd"/>
<circle cx="239.5" cy="244.0" r="1.55" fill="#bdbdbd"/>
<circle cx="183.9" cy="244.1" r="1.55" fill="#bdbdbd"/>
<circle cx="182.2" cy="244.6" r="1.55" fill="#bdbdbd"/>
<circle cx="250.4" cy="244.3" r="1.55" fill="#bdbdbd"/>
<circle cx="201.5" cy="245.6" r="1.55" fill="#bdbdbd"/>
<circle cx="195.2" cy="245.7" r="1.55" fill="#bdbdbd"/>
<circle cx="197.5" cy="246.0" r="1.55" fill="#bdbdbd"/>
<circle cx="207.3" cy="245.5" r="1.55" fill="#bdbdbd"/>
<circle cx="203.2" cy="245.6" r="1.55" fill="#bdbdbd"/>
<circle cx="209.2" cy="245.8" r="1.55" fill="#bdbdbd"/>
<circle cx="210.5" cy="245.5" r="1.55" fill="#bdbdbd"/>
<circle cx="215.7" cy="245.8" r="1.55" fill="#bdbdbd"/>
<circle cx="212.7" cy="245.4" r="1.55" fill="#bdbdbd"/>
<circle cx="203.7" cy="245.6" r="1.55" fill="#bdbdbd"/>
<circle cx="213.8" cy="245.5" r="1.55" fill="#bdbdbd"/>
<circle cx="231.0" cy="245.9" r="1.55" fill="#bdbdbd"/>
<circle cx="228.5" cy="245.1" r="1.55" fill="#bdbdbd"/>
<circle cx="237.6" cy="245.9" r="1.55" fill="#bdbdbd"/>
<circle cx="237.7" cy="245.6" r="1.55" fill="#bdbdbd"/>
<circle cx="238.2" cy="245.3" r="1.55" fill="#bdbdbd"/>
<circle cx="234.6" cy="245.1" r="1.55" fill="#bdbdbd"/>
<circle cx="224.0" cy="245.4" r="1.55" fill="#bdbdbd"/>
<circle cx="232.6" cy="245.4" r="1.55" fill="#bdbdbd"/>
<circle cx="222.4" cy="245.7" r="1.55" fill="#bdbdbd"/>
<circle cx="233.1" cy="245.2" r="1.55" fill="#bdbdbd"/>
<circle cx="228.1" cy="245.4" r="1.55" fill="#bdbdbd"/>
<circle cx="175.8" cy="245.9" r="1.55" fill="#bdbdbd"/>
<circle cx="193.7" cy="245.7" r="1.55" fill="#bdbdbd"/>
<circle cx="211.7" cy="246.2" r="1.55" fill="#bdbdbd"/>
<circle cx="210.5" cy="246.6" r="1.55" fill="#bdbdbd"/>
<circle cx="213.8" cy="246.1" r="1.55" fill="#bdbdbd"/>
<circle cx="211.4" cy="246.1" r="1.55" fill="#bdbdbd"/>
<circle cx="206.0" cy="247.0" r="1.55" fill="#bdbdbd"/>
<circle cx="194.4" cy="246.2" r="1.55" fill="#bdbdbd"/>
<circle cx="200.9" cy="246.3" r="1.55" fill="#bdbdbd"/>
<circle cx="195.8" cy="246.9" r="1.55" fill="#bdbdbd"/>
<circle cx="211.9" cy="246.4" r="1.55" fill="#bdbdbd"/>
<circle cx="202.1" cy="246.6" r="1.55" fill="#bdbdbd"/>
<circle cx="195.4" cy="246.0" r="1.55" fill="#bdbdbd"/>
<circle cx="228.1" cy="246.5" r="1.55" fill="#bdbdbd"/>
<circle cx="242.2" cy="247.0" r="1.55" fill="#bdbdbd"/>
<circle cx="231.8" cy="246.2" r="1.55" fill="#bdbdbd"/>
<circle cx="227.8" cy="246.9" r="1.55" fill="#bdbdbd"/>
<circle cx="241.3" cy="246.2" r="1.55" fill="#bdbdbd"/>
<circle cx="240.0" cy="246.4" r="1.55" fill="#bdbdbd"/>
<circle cx="231.8" cy="246.2" r="1.55" fill="#bdbdbd"/>
<circle cx="241.0" cy="247.0" r="1.55" fill="#bdbdbd"/>
<circle cx="225.7" cy="246.6" r="1.55" fill="#bdbdbd"/>
<circle cx="225.5" cy="246.9" r="1.55" fill="#bdbdbd"/>
<circle cx="222.3" cy="246.1" r="1.55" fill="#bdbdbd"/>
<circle cx="180.5" cy="246.9" r="1.55" fill="#bdbdbd"/>
<circle cx="197.3" cy="247.7" r="1.55" fill="#bdbdbd"/>
<circle cx="214.6" cy="247.4" r="1.55" fill="#bdbdbd"/>
<circle cx="196.1" cy="247.2" r="1.55" fill="#bdbdbd"/>
<circle cx="201.1" cy="247.7" r="1.55" fill="#bdbdbd"/>
<circle cx="198.7" cy="247.2" r="1.55" fill="#bdbdbd"/>
<circle cx="199.5" cy="247.7" r="1.55" fill="#bdbdbd"/>
<circle cx="211.4" cy="247.4" r="1.55" fill="#bdbdbd"/>
<circle cx="208.7" cy="247.9" r="1.55" fill="#bdbdbd"/>
<circle cx="207.1" cy="247.2" r="1.55" fill="#bdbdbd"/>
<circle cx="200.9" cy="247.9" r="1.55" fill="#bdbdbd"/>
<circle cx="208.8" cy="247.3" r="1.55" fill="#bdbdbd"/>
<circle cx="223.1" cy="248.0" r="1.55" fill="#bdbdbd"/>
<circle cx="231.0" cy="247.5" r="1.55" fill="#bdbdbd"/>
<circle cx="233.0" cy="247.0" r="1.55" fill="#bdbdbd"/>
<circle cx="234.6" cy="247.3" r="1.55" fill="#bdbdbd"/>
<circle cx="226.7" cy="247.8" r="1.55" fill="#bdbdbd"/>
<circle cx="223.1" cy="247.3" r="1.55" fill="#bdbdbd"/>
<circle cx="238.1" cy="247.2" r="1.55" fill="#bdbdbd"/>
<circle cx="227.4" cy="247.5" r="1.55" fill="#bdbdbd"/>
<circle cx="225.3" cy="247.9" r="1.55" fill="#bdbdbd"/>
<circle cx="243.3" cy="247.0" r="1.55" fill="#bdbdbd"/>
<circle cx="231.5" cy="247.8" r="1.55" fill="#bdbdbd"/>
<circle cx="193.0" cy="247.5" r="1.55" fill="#bdbdbd"/>
<circle cx="177.7" cy="247.6" r="1.55" fill="#bdbdbd"/>
<circle cx="248.4" cy="247.7" r="1.55" fill="#bdbdbd"/>
<circle cx="205.6" cy="248.5" r="1.55" fill="#bdbdbd"/>
<circle cx="212.7" cy="248.7" r="1.55" fill="#bdbdbd"/>
<circle cx="205.7" cy="249.0" r="1.55" fill="#bdbdbd"/>
<circle cx="198.2" cy="248.8" r="1.55" fill="#bdbdbd"/>
<circle cx="198.0" cy="248.6" r="1.55" fill="#bdbdbd"/>
<circle cx="199.5" cy="248.4" r="1.55" fill="#bdbdbd"/>
<circle cx="211.1" cy="248.8" r="1.55" fill="#bdbdbd"/>
<circle cx="211.5" cy="248.2" r="1.55" fill="#bdbdbd"/>
<circle cx="205.0" cy="248.2" r="1.55" fill="#bdbdbd"/>
<circle cx="207.0" cy="248.5" r="1.55" fill="#bdbdbd"/>
<circle cx="234.4" cy="248.7" r="1.55" fill="#bdbdbd"/>
<circle cx="233.9" cy="248.9" r="1.55" fill="#bdbdbd"/>
<circle cx="225.1" cy="248.2" r="1.55" fill="#bdbdbd"/>
<circle cx="221.5" cy="248.5" r="1.55" fill="#bdbdbd"/>
<circle cx="230.8" cy="248.4" r="1.55" fill="#bdbdbd"/>
<circle cx="226.9" cy="248.8" r="1.55" fill="#bdbdbd"/>
<circle cx="222.7" cy="248.9" r="1.55" fill="#bdbdbd"/>
<circle cx="233.8" cy="248.5" r="1.55" fill="#bdbdbd"/>
<circle cx="238.7" cy="248.2" r="1.55" fill="#bdbdbd"/>
<circle cx="224.3" cy="248.3" r="1.55" fill="#bdbdbd"/>
<circle cx="222.0" cy="248.3" r="1.55" fill="#bdbdbd"/>
<circle cx="234.9" cy="248.5" r="1.55" fill="#bdbdbd"/>
<circle cx="186.0" cy="248.1" r="1.55" fill="#bdbdbd"/>
<circle cx="190.8" cy="248.2" r="1.55" fill="#bdbdbd"/>
<circle cx="245.6" cy="248.7" r="1.55" fill="#bdbdbd"/>
<circle cx="211.5" cy="249.1" r="1.55" fill="#bdbdbd"/>
<circle cx="203.4" cy="249.4" r="1.55" fill="#bdbdbd"/>
<circle cx="199.2" cy="250.0" r="1.55" fill="#bdbdbd"/>
<circle cx="195.4" cy="249.5" r="1.55" fill="#bdbdbd"/>
<circle cx="210.9" cy="250.0" r="1.55" fill="#bdbdbd"/>
<circle cx="197.6" cy="249.5" r="1.55" fill="#bdbdbd"/>
<circle cx="210.6" cy="249.0" r="1.55" fill="#bdbdbd"/>
<circle cx="199.7" cy="249.9" r="1.55" fill="#bdbdbd"/>
<circle cx="197.5" cy="249.4" r="1.55" fill="#bdbdbd"/>
<circle cx="200.9" cy="249.4" r="1.55" fill="#bdbdbd"/>
<circle cx="221.8" cy="250.0" r="1.55" fill="#bdbdbd"/>
<circle cx="238.0" cy="249.7" r="1.55" fill="#bdbdbd"/>
<circle cx="226.1" cy="249.3" r="1.55" fill="#bdbdbd"/>
<circle cx="233.3" cy="249.2" r="1.55" fill="#bdbdbd"/>
<circle cx="231.3" cy="249.9" r="1.55" fill="#bdbdbd"/>
<circle cx="229.1" cy="249.3" r="1.55" fill="#bdbdbd"/>
<circle cx="242.8" cy="249.6" r="1.55" fill="#bdbdbd"/>
<circle cx="221.9" cy="249.4" r="1.55" fill="#bdbdbd"/>
<circle cx="235.5" cy="249.1" r="1.55" fill="#bdbdbd"/>
<circle cx="228.7" cy="249.7" r="1.55" fill="#bdbdbd"/>
<circle cx="240.2" cy="249.6" r="1.55" fill="#bdbdbd"/>
<circle cx="240.7" cy="249.5" r="1.55" fill="#bdbdbd"/>
<circle cx="191.2" cy="249.4" r="1.55" fill="#bdbdbd"/>
<circle cx="189.9" cy="249.2" r="1.55" fill="#bdbdbd"/>
<circle cx="245.9" cy="249.5" r="1.55" fill="#bdbdbd"/>
<circle cx="199.0" cy="250.2" r="1.55" fill="#bdbdbd"/>
<circle cx="204.7" cy="250.3" r="1.55" fill="#bdbdbd"/>
<circle cx="204.2" cy="251.0" r="1.55" fill="#bdbdbd"/>
<circle cx="209.2" cy="250.9" r="1.55" fill="#bdbdbd"/>
<circle cx="199.0" cy="250.4" r="1.55" fill="#bdbdbd"/>
<circle cx="196.2" cy="250.7" r="1.55" fill="#bdbdbd"/>
<circle cx="202.4" cy="250.3" r="1.55" fill="#bdbdbd"/>
<circle cx="195.0" cy="250.2" r="1.55" fill="#bdbdbd"/>
<circle cx="200.3" cy="250.4" r="1.55" fill="#bdbdbd"/>
<circle cx="214.5" cy="250.7" r="1.55" fill="#bdbdbd"/>
<circle cx="200.4" cy="250.4" r="1.55" fill="#bdbdbd"/>
<circle cx="241.7" cy="250.4" r="1.55" fill="#bdbdbd"/>
<circle cx="237.9" cy="250.7" r="1.55" fill="#bdbdbd"/>
<circle cx="241.0" cy="250.0" r="1.55" fill="#bdbdbd"/>
<circle cx="228.1" cy="250.4" r="1.55" fill="#bdbdbd"/>
<circle cx="222.8" cy="250.9" r="1.55" fill="#bdbdbd"/>
<circle cx="228.2" cy="250.8" r="1.55" fill="#bdbdbd"/>
<circle cx="232.5" cy="250.1" r="1.55" fill="#bdbdbd"/>
<circle cx="229.7" cy="250.2" r="1.55" fill="#bdbdbd"/>
<circle cx="221.9" cy="250.2" r="1.55" fill="#bdbdbd"/>
<circle cx="234.1" cy="250.0" r="1.55" fill="#bdbdbd"/>
<circle cx="227.9" cy="250.4" r="1.55" fill="#bdbdbd"/>
<circle cx="176.4" cy="250.7" r="1.55" fill="#bdbdbd"/>
<circle cx="179.0" cy="250.7" r="1.55" fill="#bdbdbd"/>
<circle cx="245.2" cy="250.2" r="1.55" fill="#bdbdbd"/>
<circle cx="210.0" cy="251.4" r="1.55" fill="#bdbdbd"/>
<circle cx="203.1" cy="251.9" r="1.55" fill="#bdbdbd"/>
<circle cx="199.7" cy="251.3" r="1.55" fill="#bdbdbd"/>
<circle cx="202.3" cy="251.2" r="1.55" fill="#bdbdbd"/>
<circle cx="195.8" cy="251.0" r="1.55" fill="#bdbdbd"/>
<circle cx="208.3" cy="251.6" r="1.55" fill="#bdbdbd"/>
<circle cx="212.1" cy="252.0" r="1.55" fill="#bdbdbd"/>
<circle cx="201.3" cy="251.7" r="1.55" fill="#bdbdbd"/>
<circle cx="214.4" cy="251.2" r="1.55" fill="#bdbdbd"/>
<circle cx="209.5" cy="251.7" r="1.55" fill="#bdbdbd"/>
<circle cx="215.2" cy="251.9" r="1.55" fill="#bdbdbd"/>
<circle cx="234.8" cy="251.1" r="1.55" fill="#bdbdbd"/>
<circle cx="230.3" cy="251.4" r="1.55" fill="#bdbdbd"/>
<circle cx="222.3" cy="251.4" r="1.55" fill="#bdbdbd"/>
<circle cx="228.1" cy="251.5" r="1.55" fill="#bdbdbd"/>
<circle cx="227.1" cy="251.2" r="1.55" fill="#bdbdbd"/>
<circle cx="229.8" cy="251.5" r="1.55" fill="#bdbdbd"/>
<circle cx="224.6" cy="251.7" r="1.55" fill="#bdbdbd"/>
<circle cx="226.2" cy="251.1" r="1.55" fill="#bdbdbd"/>
<circle cx="228.4" cy="251.4" r="1.55" fill="#bdbdbd"/>
<circle cx="224.3" cy="251.6" r="1.55" fill="#bdbdbd"/>
<circle cx="236.3" cy="251.6" r="1.55" fill="#bdbdbd"/>
<circle cx="174.0" cy="251.4" r="1.55" fill="#bdbdbd"/>
<circle cx="181.3" cy="251.1" r="1.55" fill="#bdbdbd"/>
<circle cx="243.7" cy="251.5" r="1.55" fill="#bdbdbd"/>
<circle cx="205.1" cy="252.3" r="1.55" fill="#bdbdbd"/>
<circle cx="200.5" cy="252.0" r="1.55" fill="#bdbdbd"/>
<circle cx="202.5" cy="252.9" r="1.55" fill="#bdbdbd"/>
<circle cx="207.1" cy="252.3" r="1.55" fill="#bdbdbd"/>
<circle cx="209.2" cy="252.2" r="1.55" fill="#bdbdbd"/>
<circle cx="205.1" cy="252.6" r="1.55" fill="#bdbdbd"/>
<circle cx="215.2" cy="252.4" r="1.55" fill="#bdbdbd"/>
<circle cx="207.3" cy="252.9" r="1.55" fill="#bdbdbd"/>
<circle cx="211.4" cy="252.6" r="1.55" fill="#bdbdbd"/>
<circle cx="208.2" cy="252.4" r="1.55" fill="#bdbdbd"/>
<circle cx="226.9" cy="252.8" r="1.55" fill="#bdbdbd"/>
<circle cx="240.0" cy="252.4" r="1.55" fill="#bdbdbd"/>
<circle cx="240.7" cy="252.0" r="1.55" fill="#bdbdbd"/>
<circle cx="223.9" cy="252.5" r="1.55" fill="#bdbdbd"/>
<circle cx="227.6" cy="252.4" r="1.55" fill="#bdbdbd"/>
<circle cx="242.1" cy="252.1" r="1.55" fill="#bdbdbd"/>
<circle cx="225.1" cy="252.2" r="1.55" fill="#bdbdbd"/>
<circle cx="235.7" cy="252.2" r="1.55" fill="#bdbdbd"/>
<circle cx="220.9" cy="252.5" r="1.55" fill="#bdbdbd"/>
<circle cx="229.5" cy="252.2" r="1.55" fill="#bdbdbd"/>
<circle cx="231.6" cy="252.7" r="1.55" fill="#bdbdbd"/>
<circle cx="187.1" cy="252.6" r="1.55" fill="#bdbdbd"/>
<circle cx="191.6" cy="253.0" r="1.55" fill="#bdbdbd"/>
<circle cx="247.6" cy="252.9" r="1.55" fill="#bdbdbd"/>
<circle cx="210.3" cy="253.7" r="1.55" fill="#bdbdbd"/>
<circle cx="209.7" cy="254.0" r="1.55" fill="#bdbdbd"/>
<circle cx="212.5" cy="253.2" r="1.55" fill="#bdbdbd"/>
<circle cx="208.4" cy="253.5" r="1.55" fill="#bdbdbd"/>
<circle cx="207.2" cy="253.4" r="1.55" fill="#bdbdbd"/>
<circle cx="201.4" cy="253.7" r="1.55" fill="#bdbdbd"/>
<circle cx="206.6" cy="253.2" r="1.55" fill="#bdbdbd"/>
<circle cx="200.7" cy="253.3" r="1.55" fill="#bdbdbd"/>
<circle cx="199.2" cy="253.5" r="1.55" fill="#bdbdbd"/>
<circle cx="198.1" cy="253.1" r="1.55" fill="#bdbdbd"/>
<circle cx="223.1" cy="253.7" r="1.55" fill="#bdbdbd"/>
<circle cx="223.3" cy="253.5" r="1.55" fill="#bdbdbd"/>
<circle cx="237.5" cy="253.5" r="1.55" fill="#bdbdbd"/>
<circle cx="224.4" cy="253.9" r="1.55" fill="#bdbdbd"/>
<circle cx="239.6" cy="253.1" r="1.55" fill="#bdbdbd"/>
<circle cx="226.4" cy="253.5" r="1.55" fill="#bdbdbd"/>
<circle cx="238.0" cy="253.4" r="1.55" fill="#bdbdbd"/>
<circle cx="236.3" cy="253.3" r="1.55" fill="#bdbdbd"/>
<circle cx="236.3" cy="253.3" r="1.55" fill="#bdbdbd"/>
<circle cx="228.1" cy="253.8" r="1.55" fill="#bdbdbd"/>
<circle cx="239.0" cy="253.8" r="1.55" fill="#bdbdbd"/>
<circle cx="182.8" cy="253.7" r="1.55" fill="#bdbdbd"/>
<circle cx="187.2" cy="253.8" r="1.55" fill="#bdbdbd"/>
<circle cx="244.2" cy="253.4" r="1.55" fill="#bdbdbd"/>
<circle cx="200.5" cy="254.2" r="1.55" fill="#bdbdbd"/>
<circle cx="196.1" cy="254.6" r="1.55" fill="#bdbdbd"/>
<circle cx="215.0" cy="255.0" r="1.55" fill="#bdbdbd"/>
<circle cx="198.6" cy="254.7" r="1.55" fill="#bdbdbd"/>
<circle cx="204.4" cy="254.6" r="1.55" fill="#bdbdbd"/>
<circle cx="203.9" cy="254.9" r="1.55" fill="#bdbdbd"/>
<circle cx="216.0" cy="254.0" r="1.55" fill="#bdbdbd"/>
<circle cx="210.4" cy="254.1" r="1.55" fill="#bdbdbd"/>
<circle cx="196.7" cy="254.3" r="1.55" fill="#bdbdbd"/>
<circle cx="210.7" cy="255.0" r="1.55" fill="#bdbdbd"/>
<circle cx="227.9" cy="254.0" r="1.55" fill="#bdbdbd"/>
<circle cx="232.4" cy="254.5" r="1.55" fill="#bdbdbd"/>
<circle cx="228.8" cy="254.3" r="1.55" fill="#bdbdbd"/>
<circle cx="238.0" cy="254.8" r="1.55" fill="#bdbdbd"/>
<circle cx="226.9" cy="254.4" r="1.55" fill="#bdbdbd"/>
<circle cx="234.1" cy="254.8" r="1.55" fill="#bdbdbd"/>
<circle cx="241.8" cy="254.4" r="1.55" fill="#bdbdbd"/>
<circle cx="235.7" cy="254.5" r="1.55" fill="#bdbdbd"/>
<circle cx="237.9" cy="254.1" r="1.55" fill="#bdbdbd"/>
<circle cx="224.6" cy="254.1" r="1.55" fill="#bdbdbd"/>
<circle cx="240.8" cy="254.3" r="1.55" fill="#bdbdbd"/>
<circle cx="176.2" cy="254.3" r="1.55" fill="#bdbdbd"/>
<circle cx="173.9" cy="254.6" r="1.55" fill="#bdbdbd"/>
<circle cx="251.2" cy="254.3" r="1.55" fill="#bdbdbd"/>
<circle cx="205.8" cy="255.4" r="1.55" fill="#bdbdbd"/>
<circle cx="201.4" cy="255.1" r="1.55" fill="#bdbdbd"/>
<circle cx="197.4" cy="255.9" r="1.55" fill="#bdbdbd"/>
<circle cx="202.4" cy="255.1" r="1.55" fill="#bdbdbd"/>
<circle cx="199.8" cy="255.5" r="1.55" fill="#bdbdbd"/>
<circle cx="216.2" cy="255.2" r="1.55" fill="#bdbdbd"/>
<circle cx="213.5" cy="255.5" r="1.55" fill="#bdbdbd"/>
<circle cx="204.5" cy="255.8" r="1.55" fill="#bdbdbd"/>
<circle cx="204.1" cy="255.1" r="1.55" fill="#bdbdbd"/>
<circle cx="207.2" cy="255.7" r="1.55" fill="#bdbdbd"/>
<circle cx="226.7" cy="255.9" r="1.55" fill="#bdbdbd"/>
<circle cx="239.1" cy="256.0" r="1.55" fill="#bdbdbd"/>
<circle cx="230.2" cy="255.8" r="1.55" fill="#bdbdbd"/>
<circle cx="236.2" cy="255.2" r="1.55" fill="#bdbdbd"/>
<circle cx="221.4" cy="255.2" r="1.55" fill="#bdbdbd"/>
<circle cx="223.3" cy="255.1" r="1.55" fill="#bdbdbd"/>
<circle cx="228.4" cy="255.8" r="1.55" fill="#bdbdbd"/>
<circle cx="227.4" cy="255.5" r="1.55" fill="#bdbdbd"/>
<circle cx="221.1" cy="255.2" r="1.55" fill="#bdbdbd"/>
<circle cx="241.1" cy="255.0" r="1.55" fill="#bdbdbd"/>
<circle cx="191.8" cy="255.8" r="1.55" fill="#bdbdbd"/>
<circle cx="190.2" cy="255.4" r="1.55" fill="#bdbdbd"/>
<circle cx="253.9" cy="255.8" r="1.55" fill="#bdbdbd"/>
<circle cx="198.4" cy="257.0" r="1.55" fill="#bdbdbd"/>
<circle cx="204.4" cy="256.7" r="1.55" fill="#bdbdbd"/>
<circle cx="201.4" cy="256.9" r="1.55" fill="#bdbdbd"/>
<circle cx="196.9" cy="256.6" r="1.55" fill="#bdbdbd"/>
<circle cx="200.9" cy="256.4" r="1.55" fill="#bdbdbd"/>
<circle cx="203.8" cy="256.7" r="1.55" fill="#bdbdbd"/>
<circle cx="212.5" cy="256.4" r="1.55" fill="#bdbdbd"/>
<circle cx="209.1" cy="256.4" r="1.55" fill="#bdbdbd"/>
<circle cx="202.0" cy="256.9" r="1.55" fill="#bdbdbd"/>
<circle cx="222.8" cy="256.3" r="1.55" fill="#bdbdbd"/>
<circle cx="236.4" cy="256.2" r="1.55" fill="#bdbdbd"/>
<circle cx="236.4" cy="256.5" r="1.55" fill="#bdbdbd"/>
<circle cx="235.1" cy="256.2" r="1.55" fill="#bdbdbd"/>
<circle cx="223.0" cy="256.1" r="1.55" fill="#bdbdbd"/>
<circle cx="228.1" cy="256.4" r="1.55" fill="#bdbdbd"/>
<circle cx="221.0" cy="256.5" r="1.55" fill="#bdbdbd"/>
<circle cx="229.3" cy="256.3" r="1.55" fill="#bdbdbd"/>
<circle cx="232.1" cy="257.0" r="1.55" fill="#bdbdbd"/>
<circle cx="225.1" cy="256.9" r="1.55" fill="#bdbdbd"/>
<circle cx="227.5" cy="256.8" r="1.55" fill="#bdbdbd"/>
<circle cx="196.2" cy="256.4" r="1.55" fill="#bdbdbd"/>
<circle cx="195.6" cy="256.2" r="1.55" fill="#bdbdbd"/>
<circle cx="252.0" cy="256.2" r="1.55" fill="#bdbdbd"/>
<circle cx="210.0" cy="257.9" r="1.55" fill="#bdbdbd"/>
<circle cx="203.0" cy="257.2" r="1.55" fill="#bdbdbd"/>
<circle cx="203.7" cy="258.0" r="1.55" fill="#bdbdbd"/>
<circle cx="199.6" cy="257.6" r="1.55" fill="#bdbdbd"/>
<circle cx="204.1" cy="257.6" r="1.55" fill="#bdbdbd"/>
<circle cx="200.9" cy="257.6" r="1.55" fill="#bdbdbd"/>
<circle cx="214.1" cy="257.9" r="1.55" fill="#bdbdbd"/>
<circle cx="209.0" cy="257.5" r="1.55" fill="#bdbdbd"/>
<circle cx="207.8" cy="257.1" r="1.55" fill="#bdbdbd"/>
<circle cx="213.1" cy="257.7" r="1.55" fill="#bdbdbd"/>
<circle cx="234.6" cy="257.4" r="1.55" fill="#bdbdbd"/>
<circle cx="228.8" cy="257.2" r="1.55" fill="#bdbdbd"/>
<circle cx="233.3" cy="257.6" r="1.55" fill="#bdbdbd"/>
<circle cx="231.5" cy="257.0" r="1.55" fill="#bdbdbd"/>
<circle cx="233.8" cy="257.4" r="1.55" fill="#bdbdbd"/>
<circle cx="233.1" cy="257.6" r="1.55" fill="#bdbdbd"/>
<circle cx="240.1" cy="257.2" r="1.55" fill="#bdbdbd"/>
<circle cx="230.5" cy="258.0" r="1.55" fill="#bdbdbd"/>
<circle cx="236.1" cy="257.3" r="1.55" fill="#bdbdbd"/>
<circle cx="236.1" cy="258.0" r="1.55" fill="#bdbdbd"/>
<circle cx="193.7" cy="257.1" r="1.55" fill="#bdbdbd"/>
<circle cx="196.5" cy="257.5" r="1.55" fill="#bdbdbd"/>
<circle cx="253.7" cy="257.6" r="1.55" fill="#bdbdbd"/>
<circle cx="213.0" cy="258.8" r="1.55" fill="#bdbdbd"/>
<circle cx="206.9" cy="259.0" r="1.55" fill="#bdbdbd"/>
<circle cx="198.3" cy="258.9" r="1.55" fill="#bdbdbd"/>
<circle cx="210.7" cy="258.3" r="1.55" fill="#bdbdbd"/>
<circle cx="212.6" cy="258.5" r="1.55" fill="#bdbdbd"/>
<circle cx="207.4" cy="258.9" r="1.55" fill="#bdbdbd"/>
<circle cx="200.8" cy="258.3" r="1.55" fill="#bdbdbd"/>
<circle cx="209.4" cy="258.1" r="1.55" fill="#bdbdbd"/>
<circle cx="207.7" cy="258.8" r="1.55" fill="#bdbdbd"/>
<circle cx="225.7" cy="258.8" r="1.55" fill="#bdbdbd"/>
<circle cx="238.3" cy="258.8" r="1.55" fill="#bdbdbd"/>
<circle cx="232.1" cy="258.9" r="1.55" fill="#bdbdbd"/>
<circle cx="237.1" cy="258.2" r="1.55" fill="#bdbdbd"/>
<circle cx="228.3" cy="258.1" r="1.55" fill="#bdbdbd"/>
<circle cx="221.5" cy="258.3" r="1.55" fill="#bdbdbd"/>
<circle cx="238.5" cy="258.8" r="1.55" fill="#bdbdbd"/>
<circle cx="223.2" cy="258.2" r="1.55" fill="#bdbdbd"/>
<circle cx="228.7" cy="258.8" r="1.55" fill="#bdbdbd"/>
<circle cx="233.4" cy="258.9" r="1.55" fill="#bdbdbd"/>
<circle cx="196.8" cy="258.2" r="1.55" fill="#bdbdbd"/>
<circle cx="188.3" cy="258.9" r="1.55" fill="#bdbdbd"/>
<circle cx="244.2" cy="258.7" r="1.55" fill="#bdbdbd"/>
<circle cx="197.6" cy="259.3" r="1.55" fill="#bdbdbd"/>
<circle cx="203.3" cy="259.6" r="1.55" fill="#bdbdbd"/>
<circle cx="202.6" cy="259.6" r="1.55" fill="#bdbdbd"/>
<circle cx="210.5" cy="259.2" r="1.55" fill="#bdbdbd"/>
<circle cx="199.8" cy="259.7" r="1.55" fill="#bdbdbd"/>
<circle cx="206.2" cy="259.1" r="1.55" fill="#bdbdbd"/>
<circle cx="199.5" cy="259.9" r="1.55" fill="#bdbdbd"/>
<circle cx="208.9" cy="259.4" r="1.55" fill="#bdbdbd"/>
<circle cx="201.1" cy="260.0" r="1.55" fill="#bdbdbd"/>
<circle cx="210.4" cy="259.7" r="1.55" fill="#bdbdbd"/>
<circle cx="227.0" cy="259.4" r="1.55" fill="#bdbdbd"/>
<circle cx="223.7" cy="259.6" r="1.55" fill="#bdbdbd"/>
<circle cx="229.4" cy="259.8" r="1.55" fill="#bdbdbd"/>
<circle cx="229.1" cy="259.5" r="1.55" fill="#bdbdbd"/>
<circle cx="231.0" cy="259.9" r="1.55" fill="#bdbdbd"/>
<circle cx="227.8" cy="259.7" r="1.55" fill="#bdbdbd"/>
<circle cx="225.5" cy="259.6" r="1.55" fill="#bdbdbd"/>
<circle cx="226.5" cy="259.9" r="1.55" fill="#bdbdbd"/>
<circle cx="226.6" cy="259.9" r="1.55" fill="#bdbdbd"/>
<circle cx="234.5" cy="259.5" r="1.55" fill="#bdbdbd"/>
<circle cx="182.7" cy="259.7" r="1.55" fill="#bdbdbd"/>
<circle cx="247.6" cy="259.1" r="1.55" fill="#bdbdbd"/>
<circle cx="202.9" cy="260.4" r="1.55" fill="#bdbdbd"/>
<circle cx="215.5" cy="260.3" r="1.55" fill="#bdbdbd"/>
<circle cx="210.7" cy="260.7" r="1.55" fill="#bdbdbd"/>
<circle cx="202.3" cy="260.4" r="1.55" fill="#bdbdbd"/>
<circle cx="200.2" cy="260.9" r="1.55" fill="#bdbdbd"/>
<circle cx="202.4" cy="260.4" r="1.55" fill="#bdbdbd"/>
<circle cx="204.1" cy="260.8" r="1.55" fill="#bdbdbd"/>
<circle cx="213.6" cy="260.6" r="1.55" fill="#bdbdbd"/>
<circle cx="207.9" cy="260.1" r="1.55" fill="#bdbdbd"/>
<circle cx="222.5" cy="260.4" r="1.55" fill="#bdbdbd"/>
<circle cx="228.2" cy="260.7" r="1.55" fill="#bdbdbd"/>
<circle cx="234.0" cy="260.3" r="1.55" fill="#bdbdbd"/>
<circle cx="238.6" cy="260.9" r="1.55" fill="#bdbdbd"/>
<circle cx="221.2" cy="260.6" r="1.55" fill="#bdbdbd"/>
<circle cx="230.0" cy="260.4" r="1.55" fill="#bdbdbd"/>
<circle cx="230.0" cy="260.3" r="1.55" fill="#bdbdbd"/>
<circle cx="234.1" cy="260.6" r="1.55" fill="#bdbdbd"/>
<circle cx="240.0" cy="261.0" r="1.55" fill="#bdbdbd"/>
<circle cx="240.5" cy="260.4" r="1.55" fill="#bdbdbd"/>
<circle cx="189.4" cy="260.7" r="1.55" fill="#bdbdbd"/>
<circle cx="197.6" cy="260.1" r="1.55" fill="#bdbdbd"/>
<circle cx="246.4" cy="260.7" r="1.55" fill="#bdbdbd"/>
<circle cx="239.4" cy="261.2" r="1.55" fill="#bdbdbd"/>
<circle cx="213.6" cy="261.1" r="1.55" fill="#bdbdbd"/>
<circle cx="214.6" cy="261.7" r="1.55" fill="#bdbdbd"/>
<circle cx="201.6" cy="261.2" r="1.55" fill="#bdbdbd"/>
<circle cx="225.2" cy="261.6" r="1.55" fill="#bdbdbd"/>
<circle cx="229.1" cy="261.3" r="1.55" fill="#bdbdbd"/>
<circle cx="232.0" cy="261.7" r="1.55" fill="#bdbdbd"/>
<circle cx="230.5" cy="261.1" r="1.55" fill="#bdbdbd"/>
<circle cx="217.7" cy="261.0" r="1.55" fill="#bdbdbd"/>
<circle cx="234.0" cy="261.9" r="1.55" fill="#bdbdbd"/>
<circle cx="235.5" cy="261.0" r="1.55" fill="#bdbdbd"/>
<circle cx="212.8" cy="261.5" r="1.55" fill="#bdbdbd"/>
<circle cx="220.4" cy="261.1" r="1.55" fill="#bdbdbd"/>
<circle cx="231.1" cy="261.3" r="1.55" fill="#bdbdbd"/>
<circle cx="219.3" cy="261.1" r="1.55" fill="#bdbdbd"/>
<circle cx="221.8" cy="261.1" r="1.55" fill="#bdbdbd"/>
<circle cx="201.8" cy="261.5" r="1.55" fill="#bdbdbd"/>
<circle cx="210.4" cy="261.8" r="1.55" fill="#bdbdbd"/>
<circle cx="208.4" cy="261.4" r="1.55" fill="#bdbdbd"/>
<circle cx="200.4" cy="261.2" r="1.55" fill="#bdbdbd"/>
<circle cx="217.0" cy="261.6" r="1.55" fill="#bdbdbd"/>
<circle cx="194.7" cy="261.1" r="1.55" fill="#bdbdbd"/>
<circle cx="194.7" cy="261.2" r="1.55" fill="#bdbdbd"/>
<circle cx="215.0" cy="262.6" r="1.55" fill="#bdbdbd"/>
<circle cx="233.6" cy="263.0" r="1.55" fill="#bdbdbd"/>
<circle cx="215.3" cy="262.0" r="1.55" fill="#bdbdbd"/>
<circle cx="204.7" cy="262.8" r="1.55" fill="#bdbdbd"/>
<circle cx="228.3" cy="262.7" r="1.55" fill="#bdbdbd"/>
<circle cx="204.9" cy="262.5" r="1.55" fill="#bdbdbd"/>
<circle cx="199.7" cy="262.1" r="1.55" fill="#bdbdbd"/>
<circle cx="210.7" cy="263.0" r="1.55" fill="#bdbdbd"/>
<circle cx="224.6" cy="262.8" r="1.55" fill="#bdbdbd"/>
<circle cx="200.4" cy="262.4" r="1.55" fill="#bdbdbd"/>
<circle cx="201.7" cy="262.3" r="1.55" fill="#bdbdbd"/>
<circle cx="203.0" cy="262.9" r="1.55" fill="#bdbdbd"/>
<circle cx="211.9" cy="262.5" r="1.55" fill="#bdbdbd"/>
<circle cx="225.1" cy="262.9" r="1.55" fill="#bdbdbd"/>
<circle cx="236.9" cy="262.6" r="1.55" fill="#bdbdbd"/>
<circle cx="218.9" cy="262.9" r="1.55" fill="#bdbdbd"/>
<circle cx="214.5" cy="262.3" r="1.55" fill="#bdbdbd"/>
<circle cx="228.5" cy="262.3" r="1.55" fill="#bdbdbd"/>
<circle cx="213.4" cy="262.4" r="1.55" fill="#bdbdbd"/>
<circle cx="217.9" cy="262.4" r="1.55" fill="#bdbdbd"/>
<circle cx="186.4" cy="262.0" r="1.55" fill="#bdbdbd"/>
<circle cx="194.9" cy="262.1" r="1.55" fill="#bdbdbd"/>
<circle cx="246.7" cy="262.4" r="1.55" fill="#bdbdbd"/>
<circle cx="202.8" cy="263.4" r="1.55" fill="#bdbdbd"/>
<circle cx="211.3" cy="263.5" r="1.55" fill="#bdbdbd"/>
<circle cx="208.0" cy="263.7" r="1.55" fill="#bdbdbd"/>
<circle cx="218.1" cy="263.0" r="1.55" fill="#bdbdbd"/>
<circle cx="215.0" cy="264.0" r="1.55" fill="#bdbdbd"/>
<circle cx="199.2" cy="263.6" r="1.55" fill="#bdbdbd"/>
<circle cx="236.8" cy="263.4" r="1.55" fill="#bdbdbd"/>
<circle cx="222.5" cy="263.4" r="1.55" fill="#bdbdbd"/>
<circle cx="210.8" cy="263.6" r="1.55" fill="#bdbdbd"/>
<circle cx="222.2" cy="263.3" r="1.55" fill="#bdbdbd"/>
<circle cx="218.5" cy="263.5" r="1.55" fill="#bdbdbd"/>
<circle cx="228.7" cy="263.1" r="1.55" fill="#bdbdbd"/>
<circle cx="202.6" cy="263.3" r="1.55" fill="#bdbdbd"/>
<circle cx="209.6" cy="263.8" r="1.55" fill="#bdbdbd"/>
<circle cx="215.7" cy="263.9" r="1.55" fill="#bdbdbd"/>
<circle cx="214.8" cy="263.3" r="1.55" fill="#bdbdbd"/>
<circle cx="225.7" cy="263.1" r="1.55" fill="#bdbdbd"/>
<circle cx="237.7" cy="263.8" r="1.55" fill="#bdbdbd"/>
<circle cx="211.9" cy="263.3" r="1.55" fill="#bdbdbd"/>
<circle cx="231.2" cy="263.8" r="1.55" fill="#bdbdbd"/>
<circle cx="178.9" cy="263.8" r="1.55" fill="#bdbdbd"/>
<circle cx="178.7" cy="263.6" r="1.55" fill="#bdbdbd"/>
<circle cx="251.0" cy="263.6" r="1.55" fill="#bdbdbd"/>
<circle cx="235.1" cy="264.8" r="1.55" fill="#bdbdbd"/>
<circle cx="221.5" cy="264.0" r="1.55" fill="#bdbdbd"/>
<circle cx="227.5" cy="264.4" r="1.55" fill="#bdbdbd"/>
<circle cx="225.3" cy="265.0" r="1.55" fill="#bdbdbd"/>
<circle cx="234.4" cy="264.1" r="1.55" fill="#bdbdbd"/>
<circle cx="229.2" cy="264.4" r="1.55" fill="#bdbdbd"/>
<circle cx="228.1" cy="264.4" r="1.55" fill="#bdbdbd"/>
<circle cx="216.5" cy="264.4" r="1.55" fill="#bdbdbd"/>
<circle cx="203.8" cy="264.3" r="1.55" fill="#bdbdbd"/>
<circle cx="227.5" cy="264.1" r="1.55" fill="#bdbdbd"/>
<circle cx="203.7" cy="264.8" r="1.55" fill="#bdbdbd"/>
<circle cx="224.8" cy="264.5" r="1.55" fill="#bdbdbd"/>
<circle cx="203.6" cy="264.1" r="1.55" fill="#bdbdbd"/>
<circle cx="211.2" cy="265.0" r="1.55" fill="#bdbdbd"/>
<circle cx="220.8" cy="264.9" r="1.55" fill="#bdbdbd"/>
<circle cx="207.4" cy="264.4" r="1.55" fill="#bdbdbd"/>
<circle cx="219.9" cy="264.8" r="1.55" fill="#bdbdbd"/>
<circle cx="204.0" cy="264.9" r="1.55" fill="#bdbdbd"/>
<circle cx="217.4" cy="264.0" r="1.55" fill="#bdbdbd"/>
<circle cx="215.9" cy="264.4" r="1.55" fill="#bdbdbd"/>
<circle cx="197.8" cy="264.5" r="1.55" fill="#bdbdbd"/>
<circle cx="242.8" cy="264.8" r="1.55" fill="#bdbdbd"/>
<circle cx="227.3" cy="265.2" r="1.55" fill="#bdbdbd"/>
<circle cx="221.5" cy="265.2" r="1.55" fill="#bdbdbd"/>
<circle cx="212.6" cy="265.2" r="1.55" fill="#bdbdbd"/>
<circle cx="212.7" cy="265.6" r="1.55" fill="#bdbdbd"/>
<circle cx="219.0" cy="265.4" r="1.55" fill="#bdbdbd"/>
<circle cx="221.0" cy="265.8" r="1.55" fill="#bdbdbd"/>
<circle cx="213.0" cy="265.6" r="1.55" fill="#bdbdbd"/>
<circle cx="217.6" cy="266.0" r="1.55" fill="#bdbdbd"/>
<circle cx="211.9" cy="265.7" r="1.55" fill="#bdbdbd"/>
<circle cx="208.4" cy="265.3" r="1.55" fill="#bdbdbd"/>
<circle cx="226.9" cy="265.6" r="1.55" fill="#bdbdbd"/>
<circle cx="209.3" cy="265.1" r="1.55" fill="#bdbdbd"/>
<circle cx="230.4" cy="265.4" r="1.55" fill="#bdbdbd"/>
<circle cx="226.3" cy="265.4" r="1.55" fill="#bdbdbd"/>
<circle cx="222.7" cy="265.6" r="1.55" fill="#bdbdbd"/>
<circle cx="236.0" cy="265.9" r="1.55" fill="#bdbdbd"/>
<circle cx="216.6" cy="265.5" r="1.55" fill="#bdbdbd"/>
<circle cx="208.3" cy="265.8" r="1.55" fill="#bdbdbd"/>
<circle cx="203.5" cy="265.3" r="1.55" fill="#bdbdbd"/>
<circle cx="180.8" cy="265.7" r="1.55" fill="#bdbdbd"/>
<circle cx="244.1" cy="265.3" r="1.55" fill="#bdbdbd"/>
<circle cx="234.4" cy="266.8" r="1.55" fill="#bdbdbd"/>
<circle cx="229.1" cy="266.1" r="1.55" fill="#bdbdbd"/>
<circle cx="228.3" cy="266.2" r="1.55" fill="#bdbdbd"/>
<circle cx="207.3" cy="266.5" r="1.55" fill="#bdbdbd"/>
<circle cx="222.1" cy="266.1" r="1.55" fill="#bdbdbd"/>
<circle cx="227.7" cy="266.6" r="1.55" fill="#bdbdbd"/>
<circle cx="232.5" cy="266.9" r="1.55" fill="#bdbdbd"/>
<circle cx="224.9" cy="266.4" r="1.55" fill="#bdbdbd"/>
<circle cx="234.4" cy="266.7" r="1.55" fill="#bdbdbd"/>
<circle cx="210.6" cy="266.9" r="1.55" fill="#bdbdbd"/>
<circle cx="226.3" cy="266.3" r="1.55" fill="#bdbdbd"/>
<circle cx="209.1" cy="266.0" r="1.55" fill="#bdbdbd"/>
<circle cx="219.5" cy="266.3" r="1.55" fill="#bdbdbd"/>
<circle cx="210.7" cy="266.3" r="1.55" fill="#bdbdbd"/>
<circle cx="204.8" cy="266.5" r="1.55" fill="#bdbdbd"/>
<circle cx="209.9" cy="266.3" r="1.55" fill="#bdbdbd"/>
<circle cx="210.1" cy="266.5" r="1.55" fill="#bdbdbd"/>
<circle cx="231.6" cy="266.2" r="1.55" fill="#bdbdbd"/>
<circle cx="197.4" cy="266.6" r="1.55" fill="#bdbdbd"/>
<circle cx="245.6" cy="266.5" r="1.55" fill="#bdbdbd"/>
<circle cx="232.6" cy="267.8" r="1.55" fill="#bdbdbd"/>
<circle cx="209.6" cy="267.1" r="1.55" fill="#bdbdbd"/>
<circle cx="233.2" cy="267.4" r="1.55" fill="#bdbdbd"/>
<circle cx="228.0" cy="267.2" r="1.55" fill="#bdbdbd"/>
<circle cx="216.3" cy="267.4" r="1.55" fill="#bdbdbd"/>
<circle cx="225.9" cy="267.9" r="1.55" fill="#bdbdbd"/>
<circle cx="218.1" cy="267.6" r="1.55" fill="#bdbdbd"/>
<circle cx="212.7" cy="267.2" r="1.55" fill="#bdbdbd"/>
<circle cx="233.6" cy="267.1" r="1.55" fill="#bdbdbd"/>
<circle cx="233.3" cy="267.7" r="1.55" fill="#bdbdbd"/>
<circle cx="203.0" cy="267.9" r="1.55" fill="#bdbdbd"/>
<circle cx="204.1" cy="267.6" r="1.55" fill="#bdbdbd"/>
<circle cx="204.7" cy="268.0" r="1.55" fill="#bdbdbd"/>
<circle cx="211.3" cy="267.9" r="1.55" fill="#bdbdbd"/>
<circle cx="202.6" cy="267.7" r="1.55" fill="#bdbdbd"/>
<circle cx="202.9" cy="267.0" r="1.55" fill="#bdbdbd"/>
<circle cx="220.4" cy="268.0" r="1.55" fill="#bdbdbd"/>
<circle cx="197.9" cy="267.8" r="1.55" fill="#bdbdbd"/>
<circle cx="236.3" cy="267.5" r="1.55" fill="#bdbdbd"/>
<circle cx="218.7" cy="268.4" r="1.55" fill="#bdbdbd"/>
<circle cx="217.7" cy="268.2" r="1.55" fill="#bdbdbd"/>
<circle cx="224.7" cy="268.4" r="1.55" fill="#bdbdbd"/>
<circle cx="217.3" cy="268.1" r="1.55" fill="#bdbdbd"/>
<circle cx="217.3" cy="268.6" r="1.55" fill="#bdbdbd"/>
<circle cx="233.7" cy="268.6" r="1.55" fill="#bdbdbd"/>
<circle cx="205.4" cy="268.3" r="1.55" fill="#bdbdbd"/>
<circle cx="212.2" cy="268.7" r="1.55" fill="#bdbdbd"/>
<circle cx="232.6" cy="269.0" r="1.55" fill="#bdbdbd"/>
<circle cx="232.9" cy="268.9" r="1.55" fill="#bdbdbd"/>
<circle cx="229.9" cy="268.9" r="1.55" fill="#bdbdbd"/>
<circle cx="201.6" cy="268.5" r="1.55" fill="#bdbdbd"/>
<circle cx="220.8" cy="268.7" r="1.55" fill="#bdbdbd"/>
<circle cx="221.6" cy="268.6" r="1.55" fill="#bdbdbd"/>
<circle cx="232.4" cy="268.1" r="1.55" fill="#bdbdbd"/>
<circle cx="218.4" cy="269.0" r="1.55" fill="#bdbdbd"/>
<circle cx="202.0" cy="268.1" r="1.55" fill="#bdbdbd"/>
<circle cx="200.2" cy="268.0" r="1.55" fill="#bdbdbd"/>
<circle cx="244.9" cy="268.7" r="1.55" fill="#bdbdbd"/>
<circle cx="220.2" cy="269.8" r="1.55" fill="#bdbdbd"/>
<circle cx="227.6" cy="269.0" r="1.55" fill="#bdbdbd"/>
<circle cx="203.5" cy="269.8" r="1.55" fill="#bdbdbd"/>
<circle cx="233.1" cy="269.8" r="1.55" fill="#bdbdbd"/>
<circle cx="214.6" cy="269.3" r="1.55" fill="#bdbdbd"/>
<circle cx="212.6" cy="269.0" r="1.55" fill="#bdbdbd"/>
<circle cx="226.4" cy="269.3" r="1.55" fill="#bdbdbd"/>
<circle cx="220.4" cy="269.5" r="1.55" fill="#bdbdbd"/>
<circle cx="212.2" cy="269.7" r="1.55" fill="#bdbdbd"/>
<circle cx="216.1" cy="269.2" r="1.55" fill="#bdbdbd"/>
<circle cx="230.0" cy="269.2" r="1.55" fill="#bdbdbd"/>
<circle cx="206.2" cy="269.3" r="1.55" fill="#bdbdbd"/>
<circle cx="216.9" cy="269.8" r="1.55" fill="#bdbdbd"/>
<circle cx="212.1" cy="269.2" r="1.55" fill="#bdbdbd"/>
<circle cx="222.6" cy="269.3" r="1.55" fill="#bdbdbd"/>
<circle cx="218.3" cy="269.3" r="1.55" fill="#bdbdbd"/>
<circle cx="187.9" cy="269.2" r="1.55" fill="#bdbdbd"/>
<circle cx="237.9" cy="269.7" r="1.55" fill="#bdbdbd"/>
<circle cx="226.5" cy="270.5" r="1.55" fill="#bdbdbd"/>
<circle cx="204.4" cy="270.8" r="1.55" fill="#bdbdbd"/>
<circle cx="209.6" cy="270.2" r="1.55" fill="#bdbdbd"/>
<circle cx="214.9" cy="271.0" r="1.55" fill="#bdbdbd"/>
<circle cx="213.5" cy="270.4" r="1.55" fill="#bdbdbd"/>
<circle cx="230.3" cy="271.0" r="1.55" fill="#bdbdbd"/>
<circle cx="214.0" cy="270.1" r="1.55" fill="#bdbdbd"/>
<circle cx="226.5" cy="270.8" r="1.55" fill="#bdbdbd"/>
<circle cx="212.5" cy="270.8" r="1.55" fill="#bdbdbd"/>
<circle cx="213.8" cy="270.3" r="1.55" fill="#bdbdbd"/>
<circle cx="220.4" cy="270.7" r="1.55" fill="#bdbdbd"/>
<circle cx="216.8" cy="270.8" r="1.55" fill="#bdbdbd"/>
<circle cx="202.4" cy="270.5" r="1.55" fill="#bdbdbd"/>
<circle cx="213.8" cy="270.1" r="1.55" fill="#bdbdbd"/>
<circle cx="230.4" cy="270.1" r="1.55" fill="#bdbdbd"/>
<circle cx="200.1" cy="271.0" r="1.55" fill="#bdbdbd"/>
<circle cx="200.9" cy="270.3" r="1.55" fill="#bdbdbd"/>
<circle cx="223.8" cy="271.9" r="1.55" fill="#bdbdbd"/>
<circle cx="208.6" cy="271.1" r="1.55" fill="#bdbdbd"/>
<circle cx="222.8" cy="271.9" r="1.55" fill="#bdbdbd"/>
<circle cx="224.2" cy="271.9" r="1.55" fill="#bdbdbd"/>
<circle cx="216.2" cy="271.4" r="1.55" fill="#bdbdbd"/>
<circle cx="206.5" cy="271.3" r="1.55" fill="#bdbdbd"/>
<circle cx="230.4" cy="271.1" r="1.55" fill="#bdbdbd"/>
<circle cx="208.4" cy="271.3" r="1.55" fill="#bdbdbd"/>
<circle cx="204.4" cy="271.3" r="1.55" fill="#bdbdbd"/>
<circle cx="208.3" cy="271.1" r="1.55" fill="#bdbdbd"/>
<circle cx="218.4" cy="271.5" r="1.55" fill="#bdbdbd"/>
<circle cx="219.5" cy="271.8" r="1.55" fill="#bdbdbd"/>
<circle cx="218.4" cy="271.9" r="1.55" fill="#bdbdbd"/>
<circle cx="205.4" cy="271.2" r="1.55" fill="#bdbdbd"/>
<circle cx="205.2" cy="271.3" r="1.55" fill="#bdbdbd"/>
<circle cx="201.9" cy="271.5" r="1.55" fill="#bdbdbd"/>
<circle cx="235.7" cy="271.6" r="1.55" fill="#bdbdbd"/>
<circle cx="225.6" cy="273.0" r="1.55" fill="#bdbdbd"/>
<circle cx="216.5" cy="272.6" r="1.55" fill="#bdbdbd"/>
<circle cx="227.1" cy="272.5" r="1.55" fill="#bdbdbd"/>
<circle cx="209.2" cy="272.9" r="1.55" fill="#bdbdbd"/>
<circle cx="230.6" cy="272.0" r="1.55" fill="#bdbdbd"/>
<circle cx="224.8" cy="272.4" r="1.55" fill="#bdbdbd"/>
<circle cx="205.4" cy="272.2" r="1.55" fill="#bdbdbd"/>
<circle cx="208.7" cy="272.7" r="1.55" fill="#bdbdbd"/>
<circle cx="209.8" cy="272.0" r="1.55" fill="#bdbdbd"/>
<circle cx="210.0" cy="272.8" r="1.55" fill="#bdbdbd"/>
<circle cx="217.6" cy="272.7" r="1.55" fill="#bdbdbd"/>
<circle cx="216.7" cy="272.2" r="1.55" fill="#bdbdbd"/>
<circle cx="204.4" cy="272.3" r="1.55" fill="#bdbdbd"/>
<circle cx="205.1" cy="272.3" r="1.55" fill="#bdbdbd"/>
<circle cx="195.6" cy="272.5" r="1.55" fill="#bdbdbd"/>
<circle cx="214.0" cy="273.9" r="1.55" fill="#bdbdbd"/>
<circle cx="219.7" cy="273.4" r="1.55" fill="#bdbdbd"/>
<circle cx="218.7" cy="273.5" r="1.55" fill="#bdbdbd"/>
<circle cx="213.4" cy="273.9" r="1.55" fill="#bdbdbd"/>
<circle cx="210.9" cy="273.9" r="1.55" fill="#bdbdbd"/>
<circle cx="226.6" cy="273.9" r="1.55" fill="#bdbdbd"/>
<circle cx="209.1" cy="273.5" r="1.55" fill="#bdbdbd"/>
<circle cx="230.0" cy="273.3" r="1.55" fill="#bdbdbd"/>
<circle cx="209.3" cy="273.7" r="1.55" fill="#bdbdbd"/>
<circle cx="211.0" cy="273.6" r="1.55" fill="#bdbdbd"/>
<circle cx="209.0" cy="273.9" r="1.55" fill="#bdbdbd"/>
<circle cx="212.2" cy="273.1" r="1.55" fill="#bdbdbd"/>
<circle cx="222.4" cy="273.3" r="1.55" fill="#bdbdbd"/>
<circle cx="198.9" cy="273.9" r="1.55" fill="#bdbdbd"/>
<circle cx="233.8" cy="273.0" r="1.55" fill="#bdbdbd"/>
<circle cx="212.3" cy="274.6" r="1.55" fill="#bdbdbd"/>
<circle cx="220.8" cy="274.5" r="1.55" fill="#bdbdbd"/>
<circle cx="208.1" cy="274.5" r="1.55" fill="#bdbdbd"/>
<circle cx="217.3" cy="274.6" r="1.55" fill="#bdbdbd"/>
<circle cx="228.7" cy="274.3" r="1.55" fill="#bdbdbd"/>
<circle cx="216.4" cy="274.1" r="1.55" fill="#bdbdbd"/>
<circle cx="224.8" cy="274.2" r="1.55" fill="#bdbdbd"/>
<circle cx="225.4" cy="274.8" r="1.55" fill="#bdbdbd"/>
<circle cx="212.0" cy="274.9" r="1.55" fill="#bdbdbd"/>
<circle cx="217.8" cy="274.4" r="1.55" fill="#bdbdbd"/>
<circle cx="219.0" cy="274.9" r="1.55" fill="#bdbdbd"/>
<circle cx="217.5" cy="274.5" r="1.55" fill="#bdbdbd"/>
<circle cx="204.2" cy="274.5" r="1.55" fill="#bdbdbd"/>
<circle cx="231.1" cy="274.2" r="1.55" fill="#bdbdbd"/>
<circle cx="224.3" cy="276.0" r="1.55" fill="#bdbdbd"/>
<circle cx="226.8" cy="275.7" r="1.55" fill="#bdbdbd"/>
<circle cx="224.2" cy="275.7" r="1.55" fill="#bdbdbd"/>
<circle cx="224.4" cy="275.8" r="1.55" fill="#bdbdbd"/>
<circle cx="210.8" cy="275.8" r="1.55" fill="#bdbdbd"/>
<circle cx="213.5" cy="275.2" r="1.55" fill="#bdbdbd"/>
<circle cx="226.8" cy="275.0" r="1.55" fill="#bdbdbd"/>
<circle cx="218.0" cy="275.3" r="1.55" fill="#bdbdbd"/>
<circle cx="224.1" cy="275.6" r="1.55" fill="#bdbdbd"/>
<circle cx="226.6" cy="275.9" r="1.55" fill="#bdbdbd"/>
<circle cx="197.7" cy="275.7" r="1.55" fill="#bdbdbd"/>
<circle cx="236.0" cy="275.9" r="1.55" fill="#bdbdbd"/>
<circle cx="211.7" cy="276.7" r="1.55" fill="#bdbdbd"/>
<circle cx="222.9" cy="277.0" r="1.55" fill="#bdbdbd"/>
<circle cx="220.2" cy="276.1" r="1.55" fill="#bdbdbd"/>
<circle cx="222.3" cy="276.1" r="1.55" fill="#bdbdbd"/>
<circle cx="225.1" cy="276.8" r="1.55" fill="#bdbdbd"/>
<circle cx="223.4" cy="276.9" r="1.55" fill="#bdbdbd"/>
<circle cx="219.2" cy="276.9" r="1.55" fill="#bdbdbd"/>
<circle cx="220.6" cy="276.5" r="1.55" fill="#bdbdbd"/>
<circle cx="215.6" cy="276.4" r="1.55" fill="#bdbdbd"/>
<circle cx="208.4" cy="276.2" r="1.55" fill="#bdbdbd"/>
<circle cx="232.1" cy="276.8" r="1.55" fill="#bdbdbd"/>
<circle cx="218.2" cy="277.3" r="1.55" fill="#bdbdbd"/>
<circle cx="213.8" cy="277.2" r="1.55" fill="#bdbdbd"/>
<circle cx="220.5" cy="277.7" r="1.55" fill="#bdbdbd"/>
<circle cx="225.7" cy="277.3" r="1.55" fill="#bdbdbd"/>
<circle cx="225.5" cy="277.9" r="1.55" fill="#bdbdbd"/>
<circle cx="214.2" cy="278.0" r="1.55" fill="#bdbdbd"/>
<circle cx="220.0" cy="278.0" r="1.55" fill="#bdbdbd"/>
<circle cx="222.7" cy="277.3" r="1.55" fill="#bdbdbd"/>
<circle cx="214.0" cy="277.5" r="1.55" fill="#bdbdbd"/>
<circle cx="201.5" cy="277.9" r="1.55" fill="#bdbdbd"/>
<circle cx="221.8" cy="278.2" r="1.55" fill="#bdbdbd"/>
<circle cx="213.2" cy="278.6" r="1.55" fill="#bdbdbd"/>
<circle cx="213.8" cy="278.3" r="1.55" fill="#bdbdbd"/>
<circle cx="211.1" cy="278.1" r="1.55" fill="#bdbdbd"/>
<circle cx="215.6" cy="278.5" r="1.55" fill="#bdbdbd"/>
<circle cx="225.0" cy="278.6" r="1.55" fill="#bdbdbd"/>
<circle cx="216.6" cy="278.4" r="1.55" fill="#bdbdbd"/>
<circle cx="213.7" cy="278.5" r="1.55" fill="#bdbdbd"/>
<circle cx="228.1" cy="278.7" r="1.55" fill="#bdbdbd"/>
<circle cx="218.7" cy="279.6" r="1.55" fill="#bdbdbd"/>
<circle cx="224.1" cy="279.9" r="1.55" fill="#bdbdbd"/>
<circle cx="214.5" cy="279.5" r="1.55" fill="#bdbdbd"/>
<circle cx="224.9" cy="279.5" r="1.55" fill="#bdbdbd"/>
<circle cx="213.6" cy="279.8" r="1.55" fill="#bdbdbd"/>
<circle cx="211.8" cy="279.2" r="1.55" fill="#bdbdbd"/>
<circle cx="218.7" cy="279.3" r="1.55" fill="#bdbdbd"/>
<circle cx="221.1" cy="280.6" r="1.55" fill="#bdbdbd"/>
<circle cx="220.4" cy="280.5" r="1.55" fill="#bdbdbd"/>
<circle cx="217.5" cy="280.1" r="1.55" fill="#bdbdbd"/>
<circle cx="217.9" cy="281.0" r="1.55" fill="#bdbdbd"/>
<circle cx="222.4" cy="280.1" r="1.55" fill="#bdbdbd"/>
<circle cx="213.6" cy="280.3" r="1.55" fill="#bdbdbd"/>
<circle cx="173.3" cy="102.9" r="1.55" fill="#0000ff"/>
<circle cx="160.3" cy="117.3" r="1.55" fill="#0000ff"/>
<circle cx="195.0" cy="130.0" r="1.55" fill="#0000ff"/>
<circle cx="207.4" cy="139.9" r="1.55" fill="#0000ff"/>
<circle cx="105.0" cy="151.4" r="1.55" fill="#0000ff"/>
<circle cx="171.3" cy="154.4" r="1.55" fill="#0000ff"/>
<circle cx="167.9" cy="161.0" r="1.55" fill="#0000ff"/>
<circle cx="177.5" cy="163.5" r="1.55" fill="#0000ff"/>
<circle cx="190.2" cy="167.8" r="1.55" fill="#0000ff"/>
<circle cx="114.1" cy="177.6" r="1.55" fill="#0000ff"/>
<circle cx="79.1" cy="184.4" r="1.55" fill="#0000ff"/>
<circle cx="55.9" cy="214.8" r="1.55" fill="#0000ff"/>
<circle cx="129.9" cy="219.8" r="1.55" fill="#0000ff"/>
<circle cx="144.4" cy="189.4" r="1.55" fill="#0000ff"/>
<circle cx="191.6" cy="178.5" r="1.55" fill="#0000ff"/>
<circle cx="192.5" cy="177.0" r="1.55" fill="#0000ff"/>
<circle cx="196.7" cy="181.3" r="1.55" fill="#0000ff"/>
<circle cx="200.0" cy="180.4" r="1.55" fill="#0000ff"/>
<circle cx="201.0" cy="182.1" r="1.55" fill="#0000ff"/>
<circle cx="202.2" cy="177.0" r="1.55" fill="#0000ff"/>
<circle cx="204.6" cy="179.5" r="1.55" fill="#0000ff"/>
<circle cx="211.6" cy="180.7" r="1.55" fill="#0000ff"/>
<circle cx="211.2" cy="183.1" r="1.55" fill="#0000ff"/>
<circle cx="167.8" cy="186.4" r="1.55" fill="#0000ff"/>
<circle cx="173.9" cy="184.0" r="1.55" fill="#0000ff"/>
<circle cx="176.3" cy="182.2" r="1.55" fill="#0000ff"/>
<circle cx="178.0" cy="188.9" r="1.55" fill="#0000ff"/>
<circle cx="179.5" cy="190.3" r="1.55" fill="#0000ff"/>
<circle cx="184.7" cy="187.3" r="1.55" fill="#0000ff"/>
<circle cx="185.5" cy="190.3" r="1.55" fill="#0000ff"/>
<circle cx="188.3" cy="191.5" r="1.55" fill="#0000ff"/>
<circle cx="185.3" cy="193.3" r="1.55" fill="#0000ff"/>
<circle cx="186.3" cy="195.1" r="1.55" fill="#0000ff"/>
<circle cx="186.7" cy="197.5" r="1.55" fill="#0000ff"/>
<circle cx="190.7" cy="195.1" r="1.55" fill="#0000ff"/>
<circle cx="194.3" cy="199.0" r="1.55" fill="#0000ff"/>
<circle cx="179.3" cy="201.1" r="1.55" fill="#0000ff"/>
<circle cx="181.1" cy="200.2" r="1.55" fill="#0000ff"/>
<circle cx="175.0" cy="203.8" r="1.55" fill="#0000ff"/>
<circle cx="204.6" cy="190.5" r="1.55" fill="#0000ff"/>
<circle cx="207.0" cy="189.1" r="1.55" fill="#0000ff"/>
<circle cx="209.2" cy="187.3" r="1.55" fill="#0000ff"/>
<circle cx="210.0" cy="192.5" r="1.55" fill="#0000ff"/>
<circle cx="201.0" cy="194.9" r="1.55" fill="#0000ff"/>
<circle cx="199.8" cy="196.6" r="1.55" fill="#0000ff"/>
<circle cx="202.2" cy="197.5" r="1.55" fill="#0000ff"/>
<circle cx="204.0" cy="199.3" r="1.55" fill="#0000ff"/>
<circle cx="201.0" cy="200.0" r="1.55" fill="#0000ff"/>
<circle cx="206.4" cy="200.0" r="1.55" fill="#0000ff"/>
<circle cx="204.8" cy="201.7" r="1.55" fill="#0000ff"/>
<circle cx="211.8" cy="197.3" r="1.55" fill="#0000ff"/>
<circle cx="216.0" cy="197.8" r="1.55" fill="#0000ff"/>
<circle cx="198.0" cy="204.2" r="1.55" fill="#0000ff"/>
<circle cx="173.6" cy="219.2" r="1.55" fill="#0000ff"/>
<circle cx="174.2" cy="216.8" r="1.55" fill="#0000ff"/>
<circle cx="181.4" cy="219.2" r="1.55" fill="#0000ff"/>
<circle cx="181.7" cy="216.8" r="1.55" fill="#0000ff"/>
<circle cx="187.5" cy="220.1" r="1.55" fill="#0000ff"/>
<circle cx="186.8" cy="198.6" r="1.55" fill="#0000ff"/>
<circle cx="194.0" cy="199.1" r="1.55" fill="#0000ff"/>
<circle cx="190.0" cy="196.4" r="1.55" fill="#0000ff"/>
<circle cx="181.0" cy="200.0" r="1.55" fill="#0000ff"/>
<circle cx="200.8" cy="199.1" r="1.55" fill="#0000ff"/>
<circle cx="204.4" cy="200.4" r="1.55" fill="#0000ff"/>
<circle cx="206.2" cy="201.8" r="1.55" fill="#0000ff"/>
<circle cx="211.6" cy="197.3" r="1.55" fill="#0000ff"/>
<circle cx="216.2" cy="198.2" r="1.55" fill="#0000ff"/>
<circle cx="185.0" cy="206.3" r="1.55" fill="#0000ff"/>
<circle cx="197.6" cy="204.0" r="1.55" fill="#0000ff"/>
<circle cx="191.3" cy="210.4" r="1.55" fill="#0000ff"/>
<circle cx="181.8" cy="215.8" r="1.55" fill="#0000ff"/>
<circle cx="181.4" cy="218.5" r="1.55" fill="#0000ff"/>
<circle cx="187.2" cy="219.4" r="1.55" fill="#0000ff"/>
<circle cx="210.7" cy="201.3" r="1.55" fill="#0000ff"/>
<circle cx="153.9" cy="204.2" r="1.55" fill="#0000ff"/>
<circle cx="153.9" cy="212.4" r="1.55" fill="#0000ff"/>
<circle cx="174.8" cy="203.5" r="1.55" fill="#0000ff"/>
<circle cx="179.6" cy="201.1" r="1.55" fill="#0000ff"/>
<circle cx="181.1" cy="200.0" r="1.55" fill="#0000ff"/>
<circle cx="172.7" cy="209.5" r="1.55" fill="#0000ff"/>
<circle cx="180.1" cy="207.4" r="1.55" fill="#0000ff"/>
<circle cx="185.4" cy="206.4" r="1.55" fill="#0000ff"/>
<circle cx="174.3" cy="216.4" r="1.55" fill="#0000ff"/>
<circle cx="173.8" cy="219.0" r="1.55" fill="#0000ff"/>
<circle cx="181.1" cy="215.8" r="1.55" fill="#0000ff"/>
<circle cx="181.1" cy="219.0" r="1.55" fill="#0000ff"/>
<circle cx="179.6" cy="190.5" r="1.55" fill="#0000ff"/>
<circle cx="185.4" cy="192.1" r="1.55" fill="#0000ff"/>
<circle cx="186.4" cy="194.7" r="1.55" fill="#0000ff"/>
<circle cx="186.9" cy="197.4" r="1.55" fill="#0000ff"/>
<circle cx="190.6" cy="195.8" r="1.55" fill="#0000ff"/>
<circle cx="188.5" cy="191.6" r="1.55" fill="#0000ff"/>
<circle cx="214.1" cy="214.9" r="1.55" fill="#0000ff"/>
<circle cx="215.4" cy="198.4" r="1.55" fill="#0000ff"/>
<circle cx="216.4" cy="197.6" r="1.55" fill="#0000ff"/>
<circle cx="197.1" cy="213.2" r="1.55" fill="#0000ff"/>
<circle cx="206.0" cy="217.5" r="1.55" fill="#0000ff"/>
<circle cx="202.6" cy="216.3" r="1.55" fill="#0000ff"/>
<circle cx="208.1" cy="215.8" r="1.55" fill="#0000ff"/>
<circle cx="195.4" cy="217.1" r="1.55" fill="#0000ff"/>
<circle cx="204.0" cy="207.7" r="1.55" fill="#0000ff"/>
<circle cx="196.0" cy="212.8" r="1.55" fill="#0000ff"/>
<circle cx="203.9" cy="208.9" r="1.55" fill="#0000ff"/>
<circle cx="213.6" cy="219.0" r="1.55" fill="#0000ff"/>
<circle cx="204.2" cy="215.4" r="1.55" fill="#0000ff"/>
<circle cx="196.9" cy="211.6" r="1.55" fill="#0000ff"/>
<circle cx="198.9" cy="219.2" r="1.55" fill="#0000ff"/>
<circle cx="204.7" cy="213.0" r="1.55" fill="#0000ff"/>
<circle cx="202.5" cy="219.5" r="1.55" fill="#0000ff"/>
<circle cx="199.6" cy="218.2" r="1.55" fill="#0000ff"/>
<circle cx="208.7" cy="213.6" r="1.55" fill="#0000ff"/>
<circle cx="201.8" cy="213.4" r="1.55" fill="#0000ff"/>
<circle cx="203.6" cy="211.8" r="1.55" fill="#0000ff"/>
<circle cx="207.0" cy="213.1" r="1.55" fill="#0000ff"/>
<circle cx="200.6" cy="217.9" r="1.55" fill="#0000ff"/>
<circle cx="203.6" cy="213.9" r="1.55" fill="#0000ff"/>
<circle cx="212.1" cy="213.6" r="1.55" fill="#0000ff"/>
<circle cx="202.0" cy="219.6" r="1.55" fill="#0000ff"/>
<circle cx="202.5" cy="216.6" r="1.55" fill="#0000ff"/>
<circle cx="209.3" cy="211.5" r="1.55" fill="#0000ff"/>
<circle cx="209.0" cy="220.3" r="1.55" fill="#0000ff"/>
<circle cx="207.6" cy="216.5" r="1.55" fill="#0000ff"/>
<circle cx="203.2" cy="216.3" r="1.55" fill="#0000ff"/>
<circle cx="199.0" cy="217.9" r="1.55" fill="#0000ff"/>
<circle cx="205.3" cy="220.7" r="1.55" fill="#0000ff"/>
<circle cx="201.3" cy="217.1" r="1.55" fill="#0000ff"/>
<circle cx="209.8" cy="211.0" r="1.55" fill="#0000ff"/>
<circle cx="206.8" cy="210.5" r="1.55" fill="#0000ff"/>
<circle cx="198.4" cy="219.8" r="1.55" fill="#0000ff"/>
<circle cx="195.7" cy="215.4" r="1.55" fill="#0000ff"/>
<circle cx="210.9" cy="218.8" r="1.55" fill="#0000ff"/>
<circle cx="202.3" cy="215.5" r="1.55" fill="#0000ff"/>
<circle cx="208.7" cy="217.8" r="1.55" fill="#0000ff"/>
<circle cx="209.4" cy="215.3" r="1.55" fill="#0000ff"/>
<circle cx="199.5" cy="217.0" r="1.55" fill="#0000ff"/>
<circle cx="205.7" cy="214.8" r="1.55" fill="#0000ff"/>
<circle cx="210.1" cy="211.9" r="1.55" fill="#0000ff"/>
<circle cx="209.0" cy="220.3" r="1.55" fill="#0000ff"/>
<circle cx="200.0" cy="215.2" r="1.55" fill="#0000ff"/>
<circle cx="205.1" cy="214.2" r="1.55" fill="#0000ff"/>
<circle cx="197.8" cy="215.9" r="1.55" fill="#0000ff"/>
<circle cx="212.4" cy="216.5" r="1.55" fill="#0000ff"/>
<circle cx="200.3" cy="218.4" r="1.55" fill="#0000ff"/>
<circle cx="202.9" cy="209.5" r="1.55" fill="#0000ff"/>
<circle cx="206.6" cy="213.7" r="1.55" fill="#0000ff"/>
<circle cx="205.1" cy="220.9" r="1.55" fill="#0000ff"/>
<circle cx="205.9" cy="220.4" r="1.55" fill="#0000ff"/>
<circle cx="201.6" cy="217.7" r="1.55" fill="#0000ff"/>
<circle cx="196.0" cy="211.6" r="1.55" fill="#0000ff"/>
<circle cx="208.3" cy="216.8" r="1.55" fill="#0000ff"/>
<circle cx="211.1" cy="212.6" r="1.55" fill="#0000ff"/>
<circle cx="200.0" cy="212.3" r="1.55" fill="#0000ff"/>
<circle cx="205.2" cy="207.8" r="1.55" fill="#0000ff"/>
<circle cx="202.0" cy="216.4" r="1.55" fill="#0000ff"/>
<circle cx="197.5" cy="211.7" r="1.55" fill="#0000ff"/>
<circle cx="212.0" cy="220.1" r="1.55" fill="#0000ff"/>
<circle cx="199.5" cy="209.9" r="1.55" fill="#0000ff"/>
<circle cx="210.4" cy="217.5" r="1.55" fill="#0000ff"/>
<circle cx="199.8" cy="214.1" r="1.55" fill="#0000ff"/>
<circle cx="208.4" cy="207.9" r="1.55" fill="#0000ff"/>
<circle cx="210.9" cy="219.1" r="1.55" fill="#0000ff"/>
<circle cx="198.7" cy="217.0" r="1.55" fill="#0000ff"/>
<circle cx="208.5" cy="212.1" r="1.55" fill="#0000ff"/>
<circle cx="212.1" cy="210.4" r="1.55" fill="#0000ff"/>
<circle cx="204.0" cy="211.7" r="1.55" fill="#0000ff"/>
<circle cx="203.3" cy="218.5" r="1.55" fill="#0000ff"/>
<circle cx="205.9" cy="215.7" r="1.55" fill="#0000ff"/>
<circle cx="199.0" cy="215.9" r="1.55" fill="#0000ff"/>
<circle cx="201.3" cy="213.4" r="1.55" fill="#0000ff"/>
<circle cx="203.1" cy="218.7" r="1.55" fill="#0000ff"/>
<circle cx="212.8" cy="216.6" r="1.55" fill="#0000ff"/>
<circle cx="197.9" cy="212.3" r="1.55" fill="#0000ff"/>
<circle cx="208.6" cy="210.4" r="1.55" fill="#0000ff"/>
<circle cx="212.2" cy="219.3" r="1.55" fill="#0000ff"/>
<circle cx="199.0" cy="212.4" r="1.55" fill="#0000ff"/>
<circle cx="199.1" cy="217.2" r="1.55" fill="#0000ff"/>
<circle cx="195.4" cy="216.9" r="1.55" fill="#0000ff"/>
<circle cx="205.4" cy="215.4" r="1.55" fill="#0000ff"/>
<circle cx="206.5" cy="219.1" r="1.55" fill="#0000ff"/>
<circle cx="194.9" cy="216.9" r="1.55" fill="#0000ff"/>
<circle cx="198.0" cy="211.2" r="1.55" fill="#0000ff"/>
<circle cx="207.8" cy="216.9" r="1.55" fill="#0000ff"/>
<circle cx="200.9" cy="213.8" r="1.55" fill="#0000ff"/>
<circle cx="194.7" cy="208.8" r="1.55" fill="#0000ff"/>
<circle cx="195.3" cy="205.3" r="1.55" fill="#0000ff"/>
<circle cx="213.2" cy="212.4" r="1.55" fill="#0000ff"/>
<circle cx="214.5" cy="218.1" r="1.55" fill="#0000ff"/>
<circle cx="211.4" cy="220.9" r="1.55" fill="#0000ff"/>
<circle cx="196.3" cy="203.6" r="1.55" fill="#0000ff"/>
<circle cx="195.9" cy="206.8" r="1.55" fill="#0000ff"/>
<circle cx="213.9" cy="219.7" r="1.55" fill="#0000ff"/>
<circle cx="215.4" cy="219.7" r="1.55" fill="#0000ff"/>
<circle cx="189.3" cy="207.9" r="1.55" fill="#0000ff"/>
<circle cx="217.1" cy="213.9" r="1.55" fill="#0000ff"/>
<circle cx="213.7" cy="213.3" r="1.55" fill="#0000ff"/>
<circle cx="191.6" cy="210.8" r="1.55" fill="#0000ff"/>
<circle cx="206.8" cy="205.2" r="1.55" fill="#0000ff"/>
<circle cx="204.4" cy="221.8" r="1.55" fill="#0000ff"/>
<circle cx="192.4" cy="212.3" r="1.55" fill="#0000ff"/>
<circle cx="214.9" cy="216.5" r="1.55" fill="#0000ff"/>
<circle cx="193.7" cy="211.9" r="1.55" fill="#0000ff"/>
<circle cx="207.4" cy="207.3" r="1.55" fill="#0000ff"/>
<circle cx="189.3" cy="218.2" r="1.55" fill="#0000ff"/>
<circle cx="197.3" cy="222.2" r="1.55" fill="#0000ff"/>
<circle cx="204.3" cy="205.0" r="1.55" fill="#0000ff"/>
<circle cx="210.5" cy="204.1" r="1.55" fill="#0000ff"/>
<circle cx="188.1" cy="219.0" r="1.55" fill="#0000ff"/>
<circle cx="191.4" cy="207.0" r="1.55" fill="#0000ff"/>
<circle cx="187.9" cy="206.3" r="1.55" fill="#0000ff"/>
<circle cx="313.9" cy="67.8" r="1.55" fill="#ff0000"/>
<circle cx="237.7" cy="94.9" r="1.55" fill="#ff0000"/>
<circle cx="240.5" cy="121.3" r="1.55" fill="#ff0000"/>
<circle cx="236.1" cy="135.7" r="1.55" fill="#ff0000"/>
<circle cx="234.7" cy="139.2" r="1.55" fill="#ff0000"/>
<circle cx="233.4" cy="144.8" r="1.55" fill="#ff0000"/>
<circle cx="224.8" cy="151.1" r="1.55" fill="#ff0000"/>
<circle cx="229.3" cy="152.8" r="1.55" fill="#ff0000"/>
<circle cx="235.6" cy="163.0" r="1.55" fill="#ff0000"/>
<circle cx="308.3" cy="166.9" r="1.55" fill="#ff0000"/>
<circle cx="235.6" cy="162.9" r="1.55" fill="#ff0000"/>
<circle cx="234.0" cy="166.8" r="1.55" fill="#ff0000"/>
<circle cx="239.2" cy="174.0" r="1.55" fill="#ff0000"/>
<circle cx="233.1" cy="176.4" r="1.55" fill="#ff0000"/>
<circle cx="234.4" cy="181.9" r="1.55" fill="#ff0000"/>
<circle cx="230.2" cy="183.7" r="1.55" fill="#ff0000"/>
<circle cx="248.0" cy="171.3" r="1.55" fill="#ff0000"/>
<circle cx="248.0" cy="182.4" r="1.55" fill="#ff0000"/>
<circle cx="231.4" cy="186.9" r="1.55" fill="#ff0000"/>
<circle cx="229.0" cy="188.7" r="1.55" fill="#ff0000"/>
<circle cx="247.1" cy="171.1" r="1.55" fill="#ff0000"/>
<circle cx="263.3" cy="193.5" r="1.55" fill="#ff0000"/>
<circle cx="240.8" cy="194.2" r="1.55" fill="#ff0000"/>
<circle cx="241.7" cy="197.6" r="1.55" fill="#ff0000"/>
<circle cx="251.8" cy="197.6" r="1.55" fill="#ff0000"/>
<circle cx="253.5" cy="201.4" r="1.55" fill="#ff0000"/>
<circle cx="247.6" cy="204.3" r="1.55" fill="#ff0000"/>
<circle cx="288.6" cy="204.0" r="1.55" fill="#ff0000"/>
<circle cx="298.2" cy="200.9" r="1.55" fill="#ff0000"/>
<circle cx="335.8" cy="204.3" r="1.55" fill="#ff0000"/>
<circle cx="302.4" cy="212.2" r="1.55" fill="#ff0000"/>
<circle cx="243.0" cy="206.8" r="1.55" fill="#ff0000"/>
<circle cx="245.4" cy="209.3" r="1.55" fill="#ff0000"/>
<circle cx="243.4" cy="212.7" r="1.55" fill="#ff0000"/>
<circle cx="246.7" cy="212.7" r="1.55" fill="#ff0000"/>
<circle cx="248.4" cy="211.0" r="1.55" fill="#ff0000"/>
<circle cx="251.0" cy="210.2" r="1.55" fill="#ff0000"/>
<circle cx="251.5" cy="218.3" r="1.55" fill="#ff0000"/>
<circle cx="252.6" cy="219.5" r="1.55" fill="#ff0000"/>
<circle cx="231.3" cy="187.0" r="1.55" fill="#ff0000"/>
<circle cx="229.9" cy="188.6" r="1.55" fill="#ff0000"/>
<circle cx="228.6" cy="190.0" r="1.55" fill="#ff0000"/>
<circle cx="227.2" cy="191.5" r="1.55" fill="#ff0000"/>
<circle cx="226.6" cy="192.2" r="1.55" fill="#ff0000"/>
<circle cx="223.1" cy="195.4" r="1.55" fill="#ff0000"/>
<circle cx="231.4" cy="193.3" r="1.55" fill="#ff0000"/>
<circle cx="234.2" cy="195.4" r="1.55" fill="#ff0000"/>
<circle cx="240.7" cy="193.9" r="1.55" fill="#ff0000"/>
<circle cx="241.6" cy="197.6" r="1.55" fill="#ff0000"/>
<circle cx="263.3" cy="193.6" r="1.55" fill="#ff0000"/>
<circle cx="251.9" cy="197.6" r="1.55" fill="#ff0000"/>
<circle cx="253.4" cy="201.4" r="1.55" fill="#ff0000"/>
<circle cx="228.6" cy="199.3" r="1.55" fill="#ff0000"/>
<circle cx="237.4" cy="203.1" r="1.55" fill="#ff0000"/>
<circle cx="240.7" cy="204.2" r="1.55" fill="#ff0000"/>
<circle cx="239.4" cy="206.2" r="1.55" fill="#ff0000"/>
<circle cx="243.0" cy="206.7" r="1.55" fill="#ff0000"/>
<circle cx="247.7" cy="204.4" r="1.55" fill="#ff0000"/>
<circle cx="234.4" cy="206.7" r="1.55" fill="#ff0000"/>
<circle cx="245.3" cy="209.2" r="1.55" fill="#ff0000"/>
<circle cx="251.1" cy="210.1" r="1.55" fill="#ff0000"/>
<circle cx="248.4" cy="211.2" r="1.55" fill="#ff0000"/>
<circle cx="238.3" cy="211.9" r="1.55" fill="#ff0000"/>
<circle cx="243.9" cy="212.6" r="1.55" fill="#ff0000"/>
<circle cx="226.3" cy="209.8" r="1.55" fill="#ff0000"/>
<circle cx="224.5" cy="213.0" r="1.55" fill="#ff0000"/>
<circle cx="228.6" cy="213.0" r="1.55" fill="#ff0000"/>
<circle cx="230.8" cy="204.0" r="1.55" fill="#ff0000"/>
<circle cx="230.8" cy="208.0" r="1.55" fill="#ff0000"/>
<circle cx="228.4" cy="199.3" r="1.55" fill="#ff0000"/>
<circle cx="241.5" cy="198.4" r="1.55" fill="#ff0000"/>
<circle cx="252.0" cy="198.4" r="1.55" fill="#ff0000"/>
<circle cx="253.3" cy="201.5" r="1.55" fill="#ff0000"/>
<circle cx="237.3" cy="203.1" r="1.55" fill="#ff0000"/>
<circle cx="240.7" cy="204.3" r="1.55" fill="#ff0000"/>
<circle cx="247.8" cy="204.3" r="1.55" fill="#ff0000"/>
<circle cx="234.3" cy="206.4" r="1.55" fill="#ff0000"/>
<circle cx="239.0" cy="206.4" r="1.55" fill="#ff0000"/>
<circle cx="242.8" cy="206.9" r="1.55" fill="#ff0000"/>
<circle cx="245.3" cy="209.0" r="1.55" fill="#ff0000"/>
<circle cx="247.4" cy="211.5" r="1.55" fill="#ff0000"/>
<circle cx="250.8" cy="209.8" r="1.55" fill="#ff0000"/>
<circle cx="238.1" cy="211.9" r="1.55" fill="#ff0000"/>
<circle cx="243.2" cy="212.8" r="1.55" fill="#ff0000"/>
<circle cx="246.1" cy="214.0" r="1.55" fill="#ff0000"/>
<circle cx="230.5" cy="204.3" r="1.55" fill="#ff0000"/>
<circle cx="224.6" cy="209.4" r="1.55" fill="#ff0000"/>
<circle cx="229.3" cy="208.1" r="1.55" fill="#ff0000"/>
<circle cx="224.2" cy="213.6" r="1.55" fill="#ff0000"/>
<circle cx="223.8" cy="216.1" r="1.55" fill="#ff0000"/>
<circle cx="227.6" cy="213.6" r="1.55" fill="#ff0000"/>
<circle cx="229.7" cy="213.2" r="1.55" fill="#ff0000"/>
<circle cx="228.4" cy="215.7" r="1.55" fill="#ff0000"/>
<circle cx="236.9" cy="215.3" r="1.55" fill="#ff0000"/>
<circle cx="236.5" cy="217.0" r="1.55" fill="#ff0000"/>
<circle cx="228.4" cy="220.3" r="1.55" fill="#ff0000"/>
<circle cx="231.4" cy="219.1" r="1.55" fill="#ff0000"/>
<circle cx="234.3" cy="220.3" r="1.55" fill="#ff0000"/>
<circle cx="239.0" cy="220.8" r="1.55" fill="#ff0000"/>
<circle cx="251.2" cy="217.8" r="1.55" fill="#ff0000"/>
<circle cx="252.5" cy="219.1" r="1.55" fill="#ff0000"/>
<circle cx="223.3" cy="195.4" r="1.55" fill="#ff0000"/>
<circle cx="229.9" cy="183.7" r="1.55" fill="#ff0000"/>
<circle cx="231.3" cy="187.3" r="1.55" fill="#ff0000"/>
<circle cx="229.3" cy="189.7" r="1.55" fill="#ff0000"/>
<circle cx="226.9" cy="191.7" r="1.55" fill="#ff0000"/>
<circle cx="231.7" cy="193.3" r="1.55" fill="#ff0000"/>
<circle cx="234.1" cy="195.1" r="1.55" fill="#ff0000"/>
<circle cx="228.7" cy="199.9" r="1.55" fill="#ff0000"/>
<circle cx="232.9" cy="176.4" r="1.55" fill="#ff0000"/>
<circle cx="234.7" cy="181.9" r="1.55" fill="#ff0000"/>
<circle cx="238.9" cy="174.0" r="1.55" fill="#ff0000"/>
<circle cx="233.5" cy="166.8" r="1.55" fill="#ff0000"/>
<circle cx="227.8" cy="209.9" r="1.55" fill="#ff0000"/>
<circle cx="236.9" cy="208.8" r="1.55" fill="#ff0000"/>
<circle cx="233.4" cy="215.2" r="1.55" fill="#ff0000"/>
<circle cx="232.1" cy="211.7" r="1.55" fill="#ff0000"/>
<circle cx="236.8" cy="209.8" r="1.55" fill="#ff0000"/>
<circle cx="234.9" cy="208.8" r="1.55" fill="#ff0000"/>
<circle cx="226.3" cy="210.2" r="1.55" fill="#ff0000"/>
<circle cx="238.5" cy="216.1" r="1.55" fill="#ff0000"/>
<circle cx="223.2" cy="208.8" r="1.55" fill="#ff0000"/>
<circle cx="226.3" cy="210.3" r="1.55" fill="#ff0000"/>
<circle cx="237.2" cy="216.5" r="1.55" fill="#ff0000"/>
<circle cx="233.3" cy="211.7" r="1.55" fill="#ff0000"/>
<circle cx="234.9" cy="213.4" r="1.55" fill="#ff0000"/>
<circle cx="223.1" cy="213.4" r="1.55" fill="#ff0000"/>
<circle cx="228.9" cy="214.0" r="1.55" fill="#ff0000"/>
<circle cx="227.9" cy="208.2" r="1.55" fill="#ff0000"/>
<rect x="15" y="249.5" width="119.5" height="38.5" fill="#fff"/>
<circle cx="22.3" cy="255.1" r="1.55" fill="#bdbdbd"/>
<circle cx="22.3" cy="267.2" r="1.55" fill="#0000ff"/>
<circle cx="22.3" cy="278.6" r="1.55" fill="#ff0000"/>
<text x="31.8" y="258.4" font-size="8.2" fill="#111" textLength="24.10" lengthAdjust="spacingAndGlyphs">Not Sig</text>
<text x="31.8" y="270.2" font-size="8.2" fill="#111" textLength="97.18" lengthAdjust="spacingAndGlyphs">p&lt;0.05, log2(FoldChange)&lt;0</text>
<text x="31.8" y="281.6" font-size="8.2" fill="#111" textLength="97.18" lengthAdjust="spacingAndGlyphs">p&lt;0.05, log2(FoldChange)&gt;0</text>
<rect x="14.5" y="57" width="337" height="235.3" fill="none" stroke="#4a4a4a" stroke-width="1"/>
<line x1="12" y1="97.4" x2="14.5" y2="97.4" stroke="#444" stroke-width="1"/>
<line x1="12" y1="143.5" x2="14.5" y2="143.5" stroke="#444" stroke-width="1"/>
<line x1="12" y1="189.5" x2="14.5" y2="189.5" stroke="#444" stroke-width="1"/>
<line x1="12" y1="235.5" x2="14.5" y2="235.5" stroke="#444" stroke-width="1"/>
<line x1="12" y1="281.5" x2="14.5" y2="281.5" stroke="#444" stroke-width="1"/>
<line x1="108.5" y1="292.3" x2="108.5" y2="294.6" stroke="#444" stroke-width="1"/>
<line x1="219.1" y1="292.3" x2="219.1" y2="294.6" stroke="#444" stroke-width="1"/>
<line x1="329.4" y1="292.3" x2="329.4" y2="294.6" stroke="#444" stroke-width="1"/>
<text x="108.5" y="302.8" font-size="9.2" text-anchor="middle" fill="#4d4d4d" textLength="16.4" lengthAdjust="spacingAndGlyphs">−2.5</text>
<text x="219.1" y="302.8" font-size="9.2" text-anchor="middle" fill="#4d4d4d" textLength="11.9" lengthAdjust="spacingAndGlyphs">0.0</text>
<text x="329.4" y="302.8" font-size="9.2" text-anchor="middle" fill="#4d4d4d" textLength="11.9" lengthAdjust="spacingAndGlyphs">2.5</text>
<text x="167.5" y="320" font-size="10.3" fill="#111" textLength="29.5" lengthAdjust="spacingAndGlyphs">log<tspan font-size="6.5" dy="1.5">2</tspan><tspan dy="-1.5">FC</tspan></text>
<text transform="translate(7.8,176.5) rotate(-90)" font-size="10.5" text-anchor="middle" fill="#111">-log<tspan font-size="7" dy="1.6">10</tspan><tspan dy="-1.6">(p value)</tspan></text>
<text x="227.5" y="223.2" font-size="8.2" fill="#1a1a1a" textLength="20.27" lengthAdjust="spacingAndGlyphs">CALR</text>
<line x1="171.6" y1="148.3" x2="171.6" y2="152.5" stroke="#222" stroke-width="0.7"/>
<line x1="79.4" y1="178" x2="79.2" y2="184" stroke="#222" stroke-width="0.8"/>
<line x1="187.3" y1="221" x2="187.3" y2="226.5" stroke="#222" stroke-width="0.8"/>
<line x1="208.2" y1="207.5" x2="204" y2="216.9" stroke="#222" stroke-width="0.8"/>
<rect x="79.4" y="167.6" width="32.19999999999999" height="10.5" rx="1.2" fill="#fff" fill-opacity="0.65" stroke="#555" stroke-width="0.7"/>
<text x="82.3" y="175.8" font-size="8.2" fill="#1a1a1a" textLength="26.89" lengthAdjust="spacingAndGlyphs">CAVIN2</text>
<rect x="154.9" y="226.4" width="31.599999999999994" height="10.900000000000006" rx="1.2" fill="#fff" fill-opacity="0.65" stroke="#555" stroke-width="0.7"/>
<text x="157.3" y="234.7" font-size="8.2" fill="#1a1a1a" textLength="26.89" lengthAdjust="spacingAndGlyphs">CAVIN1</text>
<rect x="208.8" y="200.6" width="23.5" height="10.5" rx="1.2" fill="#fff" fill-opacity="0.65" stroke="#555" stroke-width="0.7"/>
<text x="210.8" y="208.8" font-size="8.2" fill="#1a1a1a" textLength="19.29" lengthAdjust="spacingAndGlyphs">CAV1</text>
<text x="356.6" y="11.2" font-size="14.3" font-weight="bold">B</text>
<text x="433.7" y="31.2" font-size="10.4" fill="#111" textLength="35" lengthAdjust="spacingAndGlyphs">sgGAL4</text>
<text x="475" y="31.2" font-size="10.4" fill="#111" textLength="42" lengthAdjust="spacingAndGlyphs">sgATG9A</text>
<defs>
<filter id="bl1" x="-20%" y="-50%" width="140%" height="200%"><feGaussianBlur stdDeviation="0.9 0.8"/></filter>
<filter id="bl2" x="-20%" y="-50%" width="140%" height="200%"><feGaussianBlur stdDeviation="1.5 1.2"/></filter>
<filter id="bl3" x="-50%" y="-50%" width="200%" height="200%"><feGaussianBlur stdDeviation="2"/></filter>
</defs>
<rect x="422.5" y="40.8" width="96.8" height="22.8" fill="#e3e3e3"/>
<rect x="437" y="41" width="36" height="13" fill="#ececec" filter="url(#bl2)"/>
<rect x="422.5" y="72.2" width="96.8" height="20.8" fill="#e1e1e1"/>
<rect x="421.4" y="100.9" width="96.6" height="20.5" fill="#dedede"/>
<rect x="421.4" y="132.2" width="97.3" height="20.6" fill="#e4e4e4"/>
<linearGradient id="g1" x1="0" y1="0" x2="0" y2="1"><stop offset="0" stop-color="#6a6a6a"/><stop offset="0.45" stop-color="#3a3a3a"/><stop offset="0.6" stop-color="#4a4a4a"/><stop offset="1" stop-color="#1c1c1c"/></linearGradient>
<rect x="437.5" y="54.3" width="35.5" height="8.4" rx="1" fill="url(#g1)" filter="url(#bl1)"/>
<rect x="423" y="53.2" width="4.5" height="1.8" fill="#111" filter="url(#bl1)"/>
<rect x="423" y="47" width="2" height="1" fill="#aaa" filter="url(#bl1)"/>
<path d="M440,79.8 Q455,76.5 470,77.5 L470.5,82.5 Q455,83 440,82 Z" fill="#1a1a1a" filter="url(#bl1)"/>
<rect x="482" y="78.5" width="30" height="3.4" rx="1.5" fill="#7d7d7d" filter="url(#bl1)"/>
<ellipse cx="427.5" cy="84" rx="3" ry="2" fill="#c8c8c8" filter="url(#bl1)"/>
<rect x="439" y="91" width="10" height="1.5" fill="#b0b0b0" filter="url(#bl1)"/>
<ellipse cx="426.5" cy="112.7" rx="3.8" ry="2" fill="#111" filter="url(#bl1)"/>
<path d="M445,114.5 Q455,113 475,114.3 L475,118.3 Q455,119 445,118.3 Z" fill="#161616" filter="url(#bl1)"/>
<rect x="483" y="113.8" width="27" height="4.6" rx="2" fill="#b8b8b8" filter="url(#bl2)"/>
<rect x="476" y="101" width="6" height="20" fill="#e6e6e6" filter="url(#bl2)" opacity="0.6"/>
<circle cx="424" cy="102.5" r="0.8" fill="#666"/><circle cx="436" cy="120" r="0.7" fill="#999"/><circle cx="503" cy="112.6" r="1" fill="#aaa" filter="url(#bl1)"/>
<path d="M443.8,143 Q443.8,140.2 447,140.2 L474,140.3 Q475.3,141.3 476.5,140.3 L503,140.2 Q506.2,140.2 506.2,143 Q506.2,145.9 503,145.9 L476.5,145.7 Q475.3,144.9 474,145.7 L447,145.9 Q443.8,145.9 443.8,143 Z" fill="#0a0a0a" filter="url(#bl1)" />
<ellipse cx="433" cy="148" rx="4" ry="2.2" fill="#c4c4c4" filter="url(#bl1)"/>
<text x="365.5" y="61.3" font-size="10.3" fill="#111" textLength="28.3" lengthAdjust="spacingAndGlyphs">ATG9A</text>
<text x="421.6" y="56.0" font-size="6.9" font-weight="bold" text-anchor="end" fill="#111" textLength="22" lengthAdjust="spacingAndGlyphs">150 kd-</text>
<text x="364" y="86.4" font-size="10.3" fill="#111" textLength="31" lengthAdjust="spacingAndGlyphs">CAVIN1</text>
<text x="421.6" y="85.9" font-size="6.9" font-weight="bold" text-anchor="end" fill="#111" textLength="19" lengthAdjust="spacingAndGlyphs">37 kd-</text>
<text x="364" y="114.9" font-size="10.3" fill="#111" textLength="31" lengthAdjust="spacingAndGlyphs">CAVIN2</text>
<text x="421.6" y="114.0" font-size="6.9" font-weight="bold" text-anchor="end" fill="#111" textLength="19" lengthAdjust="spacingAndGlyphs">50 kd-</text>
<text x="369.5" y="142.4" font-size="10.3" fill="#111" textLength="28" lengthAdjust="spacingAndGlyphs">β-actin</text>
<text x="421.6" y="150.29999999999998" font-size="6.9" font-weight="bold" text-anchor="end" fill="#111" textLength="19" lengthAdjust="spacingAndGlyphs">37 kd-</text>
<text x="454" y="71.8" font-size="8.8" text-anchor="middle" fill="#111" textLength="15" lengthAdjust="spacingAndGlyphs">1.00</text>
<text x="494.8" y="71.8" font-size="8.8" text-anchor="middle" fill="#111" textLength="15.2" lengthAdjust="spacingAndGlyphs">0.08</text>
<text x="454" y="101.0" font-size="8.8" text-anchor="middle" fill="#111" textLength="15" lengthAdjust="spacingAndGlyphs">1.00</text>
<text x="494.8" y="101.0" font-size="8.8" text-anchor="middle" fill="#111" textLength="15.2" lengthAdjust="spacingAndGlyphs">0.53</text>
<text x="454" y="131.4" font-size="8.8" text-anchor="middle" fill="#111" textLength="15" lengthAdjust="spacingAndGlyphs">1.00</text>
<text x="494.8" y="131.4" font-size="8.8" text-anchor="middle" fill="#111" textLength="15.2" lengthAdjust="spacingAndGlyphs">0.22</text>
<text x="454" y="160.4" font-size="8.8" text-anchor="middle" fill="#111" textLength="15" lengthAdjust="spacingAndGlyphs">1.00</text>
<text x="494.8" y="160.4" font-size="8.8" text-anchor="middle" fill="#111" textLength="15.2" lengthAdjust="spacingAndGlyphs">1.03</text>
<text x="537.8" y="13.3" font-size="14.3" font-weight="bold">C</text>
<line x1="583" y1="26" x2="583" y2="126.8" stroke="#333" stroke-width="1"/>
<line x1="582.5" y1="126.3" x2="679.5" y2="126.3" stroke="#333" stroke-width="1"/>
<line x1="578.3" y1="126.3" x2="583" y2="126.3" stroke="#333" stroke-width="1"/>
<text x="577.3" y="129.4" font-size="8.6" text-anchor="end" fill="#111" textLength="4.3" lengthAdjust="spacingAndGlyphs">0</text>
<line x1="578.3" y1="106.3" x2="583" y2="106.3" stroke="#333" stroke-width="1"/>
<text x="577.3" y="109.4" font-size="8.6" text-anchor="end" fill="#111" textLength="8.5" lengthAdjust="spacingAndGlyphs">20</text>
<line x1="578.3" y1="86.4" x2="583" y2="86.4" stroke="#333" stroke-width="1"/>
<text x="577.3" y="89.5" font-size="8.6" text-anchor="end" fill="#111" textLength="8.5" lengthAdjust="spacingAndGlyphs">40</text>
<line x1="578.3" y1="66.4" x2="583" y2="66.4" stroke="#333" stroke-width="1"/>
<text x="577.3" y="69.5" font-size="8.6" text-anchor="end" fill="#111" textLength="8.5" lengthAdjust="spacingAndGlyphs">60</text>
<line x1="578.3" y1="46.5" x2="583" y2="46.5" stroke="#333" stroke-width="1"/>
<text x="577.3" y="49.6" font-size="8.6" text-anchor="end" fill="#111" textLength="8.5" lengthAdjust="spacingAndGlyphs">80</text>
<line x1="578.3" y1="26.5" x2="583" y2="26.5" stroke="#333" stroke-width="1"/>
<text x="577.3" y="29.6" font-size="8.6" text-anchor="end" fill="#111" textLength="12.7" lengthAdjust="spacingAndGlyphs">100</text>
<line x1="610.2" y1="126.3" x2="610.2" y2="130.6" stroke="#333" stroke-width="1"/>
<line x1="651.1" y1="126.3" x2="651.1" y2="130.6" stroke="#333" stroke-width="1"/>
<text transform="translate(546.9,88.5) rotate(-90)" font-size="10.8" text-anchor="middle" fill="#111" textLength="94.4" lengthAdjust="spacingAndGlyphs">Colocalized CAVIN2-</text>
<text transform="translate(560.6,88.75) rotate(-90)" font-size="10.8" text-anchor="middle" fill="#111" textLength="71.5" lengthAdjust="spacingAndGlyphs">ATG9A area (%)</text>
<text transform="translate(614.2,140.2) rotate(-45)" font-size="10.4" text-anchor="end" fill="#111">cancer only</text>
<text transform="translate(655.0,140.2) rotate(-45)" font-size="10.4" text-anchor="end" fill="#111">co-culture</text>
<line x1="605" y1="25.5" x2="644.8" y2="25.5" stroke="#444" stroke-width="0.9"/>
<line x1="605" y1="22.8" x2="605" y2="27.8" stroke="#444" stroke-width="0.8"/>
<line x1="644.8" y1="22.8" x2="644.8" y2="27.8" stroke="#444" stroke-width="0.8"/>
<text x="627.7" y="20.7" font-size="11.5" text-anchor="middle" fill="#111" textLength="18.6" lengthAdjust="spacingAndGlyphs">****</text>
<line x1="610.2" y1="100.2" x2="610.2" y2="104.5" stroke="#888" stroke-width="0.9"/>
<line x1="604.8" y1="100.2" x2="615.6" y2="100.2" stroke="#888" stroke-width="0.9"/>
<line x1="604.8" y1="104.5" x2="615.6" y2="104.5" stroke="#888" stroke-width="0.9"/>
<line x1="651" y1="62.2" x2="651" y2="95.6" stroke="#777" stroke-width="0.9"/>
<line x1="645" y1="62.2" x2="657.7" y2="62.2" stroke="#777" stroke-width="0.9"/>
<line x1="645" y1="95.6" x2="657.7" y2="95.6" stroke="#777" stroke-width="0.9"/>
<circle cx="610.2" cy="86.3" r="1.9" fill="#ff0000"/>
<circle cx="600.2" cy="96.9" r="1.9" fill="#ff0000"/>
<circle cx="607" cy="96.1" r="1.9" fill="#ff0000"/>
<circle cx="613.5" cy="96.1" r="1.9" fill="#ff0000"/>
<circle cx="620.3" cy="95" r="1.9" fill="#ff0000"/>
<circle cx="603.7" cy="102.9" r="1.9" fill="#ff0000"/>
<circle cx="610.2" cy="102.9" r="1.9" fill="#ff0000"/>
<circle cx="615.6" cy="103.7" r="1.9" fill="#ff0000"/>
<circle cx="600.2" cy="108.3" r="1.9" fill="#ff0000"/>
<circle cx="607" cy="108.3" r="1.9" fill="#ff0000"/>
<circle cx="613.5" cy="107.2" r="1.9" fill="#ff0000"/>
<circle cx="610.2" cy="112.1" r="1.9" fill="#ff0000"/>
<circle cx="610.2" cy="118" r="1.9" fill="#ff0000"/>
<circle cx="651" cy="47" r="1.9" fill="#0022ee"/>
<circle cx="651" cy="55.2" r="1.9" fill="#0022ee"/>
<circle cx="651" cy="59" r="1.9" fill="#0022ee"/>
<circle cx="644.9" cy="67.1" r="1.9" fill="#0022ee"/>
<circle cx="644.9" cy="70.4" r="1.9" fill="#0022ee"/>
<circle cx="651" cy="68.5" r="1.9" fill="#0022ee"/>
<circle cx="657.7" cy="70.6" r="1.9" fill="#0022ee"/>
<circle cx="657.7" cy="73.9" r="1.9" fill="#0022ee"/>
<circle cx="644.9" cy="77.1" r="1.9" fill="#0022ee"/>
<circle cx="651" cy="77.1" r="1.9" fill="#0022ee"/>
<circle cx="647.6" cy="81.5" r="1.9" fill="#0022ee"/>
<circle cx="654.1" cy="81.5" r="1.9" fill="#0022ee"/>
<circle cx="651" cy="86.6" r="1.9" fill="#0022ee"/>
<circle cx="651" cy="88.8" r="1.9" fill="#0022ee"/>
<circle cx="644.9" cy="91.5" r="1.9" fill="#0022ee"/>
<circle cx="651" cy="92.8" r="1.9" fill="#0022ee"/>
<circle cx="651" cy="97.5" r="1.9" fill="#0022ee"/>
<circle cx="651" cy="102.3" r="1.9" fill="#0022ee"/>
<circle cx="651" cy="107.2" r="1.9" fill="#0022ee"/>
<line x1="596.7" y1="102.3" x2="624.3" y2="102.3" stroke="#222" stroke-width="1.7"/>
<line x1="637.3" y1="78.75" x2="665" y2="78.75" stroke="#222" stroke-width="1.7"/>
<text x="356.6" y="188.3" font-size="14.3" font-weight="bold">D</text>
<line x1="413.3" y1="193" x2="413.3" y2="292.6" stroke="#333" stroke-width="1"/>
<line x1="412.8" y1="292.1" x2="522.3" y2="292.1" stroke="#333" stroke-width="1"/>
<line x1="409.3" y1="292.1" x2="413.3" y2="292.1" stroke="#333" stroke-width="1"/>
<text x="409" y="294.8" font-size="7.8" text-anchor="end" fill="#111" textLength="4.0" lengthAdjust="spacingAndGlyphs">0</text>
<line x1="409.3" y1="254.4" x2="413.3" y2="254.4" stroke="#333" stroke-width="1"/>
<text x="409" y="257.1" font-size="7.8" text-anchor="end" fill="#111" textLength="8.0" lengthAdjust="spacingAndGlyphs">50</text>
<line x1="409.3" y1="216.8" x2="413.3" y2="216.8" stroke="#333" stroke-width="1"/>
<text x="409" y="219.5" font-size="7.8" text-anchor="end" fill="#111" textLength="11.6" lengthAdjust="spacingAndGlyphs">100</text>
<rect x="420" y="202.6" width="13.7" height="89.5" fill="#ff0000"/>
<line x1="426.9" y1="292.1" x2="426.9" y2="294.8" stroke="#333" stroke-width="1"/>
<rect x="447.2" y="247.1" width="13.3" height="45.0" fill="#0000ff"/>
<line x1="453.9" y1="292.1" x2="453.9" y2="294.8" stroke="#333" stroke-width="1"/>
<rect x="474.2" y="260.4" width="13.8" height="31.7" fill="#000"/>
<line x1="481.1" y1="292.1" x2="481.1" y2="294.8" stroke="#333" stroke-width="1"/>
<rect x="501.3" y="258.4" width="13.7" height="33.7" fill="#000"/>
<line x1="508.1" y1="292.1" x2="508.1" y2="294.8" stroke="#333" stroke-width="1"/>
<line x1="426.9" y1="198.4" x2="426.9" y2="206" stroke="#000" stroke-width="0.9"/><line x1="423.3" y1="198.4" x2="430.5" y2="198.4" stroke="#000" stroke-width="0.9"/>
<line x1="453.8" y1="241" x2="453.8" y2="254.6" stroke="#000" stroke-width="0.9"/><line x1="450.8" y1="241" x2="457.6" y2="241" stroke="#000" stroke-width="0.9"/><line x1="450.8" y1="254.6" x2="457.6" y2="254.6" stroke="#000" stroke-width="0.9"/>
<circle cx="426.9" cy="198.4" r="1.6" fill="#000"/>
<circle cx="424.2" cy="210.5" r="1.6" fill="#000"/>
<circle cx="429.7" cy="209" r="1.6" fill="#000"/>
<circle cx="453.8" cy="235.6" r="1.6" fill="#000"/>
<circle cx="453.8" cy="237.8" r="1.6" fill="#000"/>
<circle cx="451.2" cy="258.5" r="1.6" fill="#000"/>
<circle cx="456.6" cy="255.9" r="1.6" fill="#000"/>
<circle cx="478.5" cy="261" r="1.6" fill="#000"/>
<circle cx="483" cy="260.9" r="1.6" fill="#000"/>
<circle cx="486" cy="261" r="1.6" fill="#000"/>
<circle cx="510.8" cy="258" r="1.6" fill="#000"/>
<circle cx="505" cy="259.2" r="1.6" fill="#000"/>
<text x="454.3" y="228.0" font-size="7.8" text-anchor="middle" fill="#111">***</text>
<text x="481.7" y="253.5" font-size="7.8" text-anchor="middle" fill="#111">***</text>
<text x="508.5" y="252.3" font-size="7.8" text-anchor="middle" fill="#111">***</text>
<text transform="translate(383.7,254.1) rotate(-90)" font-size="11" text-anchor="middle" fill="#111" textLength="80.2" lengthAdjust="spacingAndGlyphs">Cancer live cell %</text>
<text transform="translate(428.0,304.5) rotate(-45)" font-size="8.8" text-anchor="end" fill="#111">sgGAL4</text>
<text transform="translate(454.8,304.5) rotate(-45)" font-size="8.8" text-anchor="end" fill="#111">sgATG9A</text>
<text transform="translate(482.1,304.5) rotate(-45)" font-size="8.8" text-anchor="end" fill="#111">sgCAVIN1</text>
<text transform="translate(509.2,304.5) rotate(-45)" font-size="8.8" text-anchor="end" fill="#111">sgCAVIN2</text>
<text x="538.2" y="187.3" font-size="14.8" font-weight="bold" textLength="8.6" lengthAdjust="spacingAndGlyphs">E</text>
<line x1="582.4" y1="198.6" x2="582.4" y2="292.6" stroke="#333" stroke-width="1"/>
<line x1="581.9" y1="292.1" x2="685" y2="292.1" stroke="#333" stroke-width="1"/>
<line x1="578.4" y1="292.1" x2="582.4" y2="292.1" stroke="#333" stroke-width="1"/>
<text x="578.4" y="294.9" font-size="7.9" text-anchor="end" fill="#111" textLength="4.0" lengthAdjust="spacingAndGlyphs">0</text>
<line x1="578.4" y1="261.3" x2="582.4" y2="261.3" stroke="#333" stroke-width="1"/>
<text x="578.4" y="264.1" font-size="7.9" text-anchor="end" fill="#111" textLength="8.4" lengthAdjust="spacingAndGlyphs">10</text>
<line x1="578.4" y1="230.5" x2="582.4" y2="230.5" stroke="#333" stroke-width="1"/>
<text x="578.4" y="233.3" font-size="7.9" text-anchor="end" fill="#111" textLength="8.4" lengthAdjust="spacingAndGlyphs">20</text>
<line x1="578.4" y1="199.7" x2="582.4" y2="199.7" stroke="#333" stroke-width="1"/>
<text x="578.4" y="202.5" font-size="7.9" text-anchor="end" fill="#111" textLength="8.4" lengthAdjust="spacingAndGlyphs">30</text>
<rect x="588.8" y="268" width="13.1" height="24.1" fill="#ff0000"/>
<line x1="595.3" y1="292.1" x2="595.3" y2="295.6" stroke="#333" stroke-width="1"/>
<rect x="614.1" y="245.8" width="12.7" height="46.3" fill="#0000ff"/>
<line x1="620.5" y1="292.1" x2="620.5" y2="295.6" stroke="#333" stroke-width="1"/>
<rect x="640" y="225.7" width="12.2" height="66.4" fill="#000"/>
<line x1="646.1" y1="292.1" x2="646.1" y2="295.6" stroke="#333" stroke-width="1"/>
<rect x="665.3" y="221.2" width="12.4" height="70.9" fill="#000"/>
<line x1="671.5" y1="292.1" x2="671.5" y2="295.6" stroke="#333" stroke-width="1"/>
<line x1="591.5" y1="267.2" x2="599" y2="267.2" stroke="#777" stroke-width="0.8"/>
<line x1="620.6" y1="240.5" x2="620.6" y2="251.1" stroke="#000" stroke-width="0.9"/><line x1="617.7" y1="240.5" x2="624" y2="240.5" stroke="#000" stroke-width="0.9"/><line x1="617.7" y1="251.1" x2="624" y2="251.1" stroke="#000" stroke-width="0.9"/>
<line x1="646.3" y1="212.5" x2="646.3" y2="226" stroke="#000" stroke-width="0.9"/><line x1="643" y1="212.5" x2="650" y2="212.5" stroke="#000" stroke-width="0.9"/>
<line x1="671.6" y1="211.3" x2="671.6" y2="222" stroke="#000" stroke-width="0.9"/><line x1="668.9" y1="211.3" x2="674.7" y2="211.3" stroke="#000" stroke-width="0.9"/>
<circle cx="595.2" cy="263.3" r="1.6" fill="#000"/>
<circle cx="590.3" cy="269.8" r="1.6" fill="#000"/>
<circle cx="593.3" cy="269.5" r="1.6" fill="#000"/>
<circle cx="596.8" cy="269.5" r="1.6" fill="#000"/>
<circle cx="600.2" cy="269.6" r="1.6" fill="#000"/>
<circle cx="617.7" cy="234.6" r="1.6" fill="#000"/>
<circle cx="623.6" cy="237.8" r="1.6" fill="#000"/>
<circle cx="617.7" cy="239.3" r="1.6" fill="#000"/>
<circle cx="617.7" cy="258.9" r="1.6" fill="#000"/>
<circle cx="623.6" cy="258.9" r="1.6" fill="#000"/>
<circle cx="643.1" cy="207.5" r="1.6" fill="#000"/>
<circle cx="648.5" cy="207.5" r="1.6" fill="#000"/>
<circle cx="671.6" cy="201.4" r="1.6" fill="#000"/>
<circle cx="671.6" cy="204.9" r="1.6" fill="#000"/>
<circle cx="671.6" cy="208.2" r="1.6" fill="#000"/>
<text x="619.8" y="221.0" font-size="7.8" text-anchor="middle" fill="#111">**</text>
<text x="646.3" y="197.6" font-size="7.8" text-anchor="middle" fill="#111">*</text>
<text x="671.6" y="191.0" font-size="7.8" text-anchor="middle" fill="#111">**</text>
<text transform="translate(556.4,249) rotate(-90)" font-size="11" text-anchor="middle" fill="#111" textLength="80.8" lengthAdjust="spacingAndGlyphs">Cancer cell PI+ %</text>
<text transform="translate(596.4,304.5) rotate(-45)" font-size="8.8" text-anchor="end" fill="#111">sgGAL4</text>
<text transform="translate(621.4,304.5) rotate(-45)" font-size="8.8" text-anchor="end" fill="#111">sgATG9A</text>
<text transform="translate(647.1,304.5) rotate(-45)" font-size="8.8" text-anchor="end" fill="#111">sgCAVIN1</text>
<text transform="translate(672.5,304.5) rotate(-45)" font-size="8.8" text-anchor="end" fill="#111">sgCAVIN2</text>
</svg></body></html>
